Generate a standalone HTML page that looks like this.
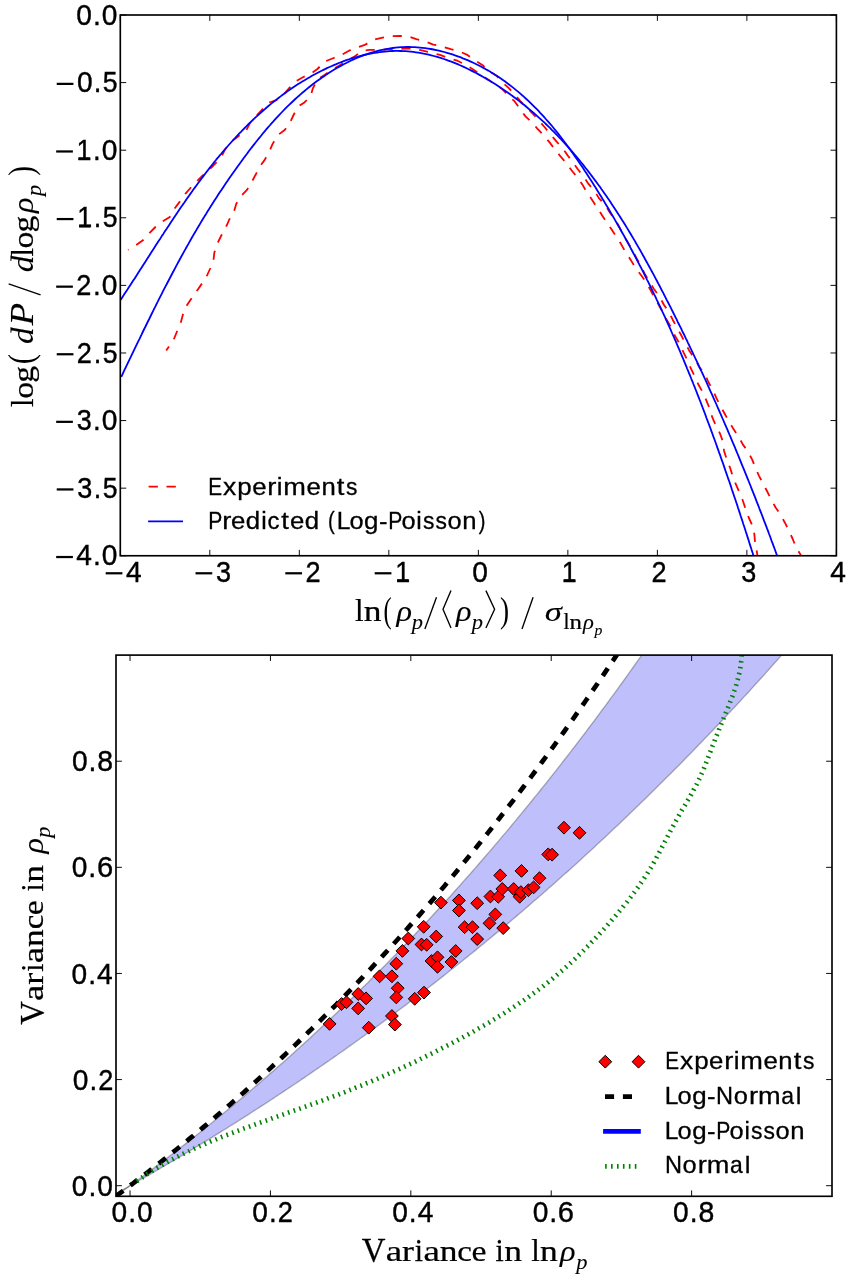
<!DOCTYPE html>
<html><head><meta charset="utf-8"><title>Log-Poisson density PDFs</title>
<style>html,body{margin:0;padding:0;background:#fff}svg{display:block;will-change:transform}text{font-family:"Liberation Sans",sans-serif;fill:#000}.m{font-family:"Liberation Serif",serif}.i{font-style:italic}</style></head><body>
<svg width="855" height="1283" viewBox="0 0 855 1283" role="img" aria-label="Log-Poisson density PDF and variance relation charts">
<rect width="855" height="1283" fill="#fff"/>
<defs>
<clipPath id="ct"><rect x="120.30" y="15.00" width="716.10" height="540.75"/></clipPath>
<clipPath id="cb"><rect x="116.00" y="655.10" width="716.00" height="541.20"/></clipPath>
</defs>
<g clip-path="url(#ct)" fill="none" stroke-linejoin="round">
<path d="M128.0 249.8 L135.9 245.3 L142.9 240.3 L149.6 232.8 L155.4 227.0 L162.5 221.5 L169.8 217.0 L174.5 208.7 L179.8 201.6 L185.3 193.8 L191.1 187.2 L197.5 180.6 L202.5 175.7 L212.4 166.5 L215.7 163.2 L222.4 154.9 L225.2 149.1 L232.4 140.8 L235.7 138.3 L246.5 130.0 L249.8 123.3 L256.4 115.9 L261.7 110.0 L268.9 102.6 L276.4 100.1 L283.8 94.3 L288.8 88.5 L296.3 81.0 L302.9 77.3 L311.6 73.1 L317.4 69.0 L324.9 61.5 L332.4 58.5 L341.5 54.9 L349.0 50.7 L357.3 47.4 L364.8 44.9 L373.1 39.9 L381.4 37.9 L391.0 36.3 L399.7 35.8 L408.8 36.6 L416.3 39.1 L425.4 41.6 L433.3 44.6 L442.5 46.6 L450.8 49.1 L459.9 51.6 L467.4 54.9 L475.7 60.7 L482.3 64.9 L489.8 71.5 L496.4 75.7 L503.1 83.1 L508.9 88.1 L516.4 96.4 L520.5 101.4 L528.0 108.9 L533.0 113.9 L539.6 121.3 L544.9 127.5 L551.6 135.8 L556.6 141.6 L563.2 149.1 L567.9 155.7 L573.5 163.2 L578.2 169.8 L584.0 177.3 L588.5 183.9 L594.8 191.4 L598.9 198.1 L605.6 205.5 L609.7 212.2 L615.5 220.5 L618.2 225.0 L625.7 239.1 L627.4 241.6 L634.0 253.2 L636.5 258.2 L641.5 267.3 L644.8 274.0 L649.8 282.3 L653.9 288.9 L659.8 297.2 L663.9 304.7 L669.4 313.0 L672.7 319.7 L677.4 328.3 L681.5 335.8 L685.7 344.1 L689.8 351.6 L695.6 359.9 L699.0 366.5 L705.6 375.6 L708.1 381.5 L713.1 390.6 L716.4 398.1 L720.6 406.4 L724.7 413.8 L729.0 421.7 L733.5 429.1 L738.5 436.6 L743.1 444.9 L748.1 451.6 L752.3 459.9 L755.6 468.2 L758.9 475.6 L763.1 483.9 L767.4 491.8 L771.5 499.9 L775.6 507.5 L780.8 515.1 L784.9 522.7 L789.0 530.9 L792.5 538.5 L796.0 547.3 L800.7 554.9 L806.0 566.0" stroke="#f00" stroke-width="1.80" stroke-dasharray="9.1 8.8" stroke-dashoffset="8.4"/>
<path d="M166.2 350.6 L173.6 339.8 L177.0 331.5 L180.8 322.4 L182.8 314.9 L186.1 306.6 L191.1 299.1 L197.7 289.7 L206.0 277.7 L210.2 268.5 L213.5 260.2 L214.3 252.8 L217.7 242.8 L221.8 234.5 L226.0 227.0 L229.3 219.5 L233.8 212.1 L236.3 203.8 L240.9 196.3 L247.2 189.6 L251.5 182.3 L255.6 174.8 L259.8 166.5 L264.7 159.9 L269.7 150.7 L272.5 144.1 L278.0 135.0 L284.7 130.0 L289.7 123.3 L293.3 115.5 L298.0 106.7 L304.4 102.4 L310.6 96.2 L312.7 88.7 L317.6 79.2 L324.9 74.8 L331.6 69.8 L339.0 65.7 L348.2 59.9 L354.0 56.9 L362.3 50.7 L369.8 49.9 L379.7 49.9 L386.4 49.4 L397.2 49.1 L405.5 48.6 L414.6 48.6 L422.9 50.7 L431.8 52.8 L440.0 54.9 L449.1 58.2 L457.4 60.7 L465.7 64.9 L472.4 69.0 L480.7 74.8 L487.3 79.0 L494.8 84.0 L502.2 89.0 L508.9 96.4 L514.7 101.4 L520.5 109.7 L525.5 116.4 L532.0 122.4 L537.3 128.6 L544.0 135.7 L549.6 142.4 L555.2 149.9 L560.4 156.2 L566.5 163.5 L571.5 170.2 L577.3 177.3 L582.3 184.4 L586.8 192.2 L591.8 199.4 L596.8 207.2 L601.7 214.7 L606.6 222.3 L611.3 229.1 L616.2 236.6 L621.1 244.1 L625.7 252.4 L630.7 259.9 L635.2 267.3 L640.2 274.0 L645.6 281.5 L649.8 288.9 L653.9 296.4 L658.1 303.9 L663.1 313.0 L666.7 319.7 L671.6 328.3 L674.9 335.8 L679.9 344.1 L683.5 352.4 L687.3 359.9 L690.7 368.2 L694.8 376.5 L698.5 384.8 L702.8 392.2 L706.4 400.6 L709.8 408.9 L712.2 417.2 L715.7 425.0 L719.9 433.3 L723.2 442.4 L724.0 450.7 L726.9 459.9 L729.9 467.3 L732.8 476.5 L735.7 483.9 L739.2 492.0 L742.8 500.5 L745.5 508.7 L748.7 517.5 L752.2 525.1 L754.3 533.9 L755.1 542.6 L756.8 551.4 L757.5 556.0" stroke="#f00" stroke-width="1.80" stroke-dasharray="9.1 8.8" stroke-dashoffset="4.2"/>
<path d="M120.5 300.1 L121.9 297.9 L123.3 295.8 L124.7 293.6 L126.1 291.5 L127.6 289.3 L129.0 287.1 L130.4 285.0 L131.8 282.8 L133.2 280.6 L134.7 278.4 L136.1 276.2 L137.5 274.0 L138.9 271.8 L140.3 269.6 L141.7 267.4 L143.2 265.1 L144.6 262.9 L146.0 260.7 L147.4 258.5 L148.9 256.2 L150.3 254.0 L151.7 251.8 L153.2 249.5 L154.6 247.3 L156.0 245.1 L157.5 242.8 L158.9 240.6 L160.4 238.4 L161.8 236.1 L163.3 233.9 L164.7 231.6 L166.2 229.4 L167.7 227.2 L169.2 224.9 L170.6 222.7 L172.1 220.5 L173.6 218.2 L175.1 216.0 L176.6 213.8 L178.1 211.6 L179.6 209.3 L181.1 207.1 L182.6 204.9 L184.2 202.7 L185.7 200.5 L187.2 198.3 L188.8 196.1 L190.3 193.9 L191.9 191.7 L193.4 189.6 L195.0 187.4 L196.6 185.2 L198.2 183.0 L199.8 180.9 L201.4 178.7 L203.0 176.6 L204.6 174.5 L206.3 172.3 L207.9 170.2 L209.5 168.1 L211.2 166.0 L212.9 163.9 L214.5 161.8 L216.2 159.7 L217.9 157.7 L219.6 155.6 L221.4 153.6 L223.1 151.5 L224.8 149.5 L226.6 147.5 L228.3 145.5 L230.1 143.5 L231.9 141.5 L233.7 139.5 L235.5 137.6 L237.3 135.6 L239.1 133.7 L241.0 131.8 L242.8 129.9 L244.7 128.0 L246.6 126.1 L248.4 124.2 L250.3 122.3 L252.3 120.5 L254.2 118.7 L256.1 116.9 L258.1 115.1 L260.1 113.3 L262.1 111.5 L264.1 109.8 L266.1 108.0 L268.1 106.3 L270.1 104.6 L272.2 102.9 L274.3 101.3 L276.4 99.6 L278.5 98.0 L280.6 96.4 L282.7 94.8 L284.9 93.2 L287.1 91.6 L289.3 90.1 L291.5 88.6 L293.7 87.1 L295.9 85.6 L298.2 84.1 L300.4 82.7 L302.7 81.3 L305.0 79.9 L307.4 78.5 L309.7 77.2 L312.0 75.8 L314.4 74.5 L316.8 73.2 L319.2 72.0 L321.6 70.8 L324.0 69.6 L326.5 68.4 L328.9 67.3 L331.4 66.2 L333.8 65.1 L336.3 64.1 L338.8 63.0 L341.3 62.1 L343.8 61.1 L346.3 60.2 L348.9 59.4 L351.4 58.5 L353.9 57.7 L356.5 57.0 L359.0 56.3 L361.6 55.6 L364.2 55.0 L366.7 54.4 L369.3 53.8 L371.9 53.3 L374.5 52.9 L377.1 52.5 L379.7 52.1 L382.2 51.8 L384.8 51.5 L387.4 51.3 L390.0 51.1 L392.6 51.0 L395.2 50.9 L397.8 50.9 L400.4 51.0 L403.0 51.1 L405.6 51.2 L408.1 51.4 L410.7 51.6 L413.3 51.9 L415.9 52.3 L418.5 52.7 L421.0 53.1 L423.6 53.6 L426.1 54.1 L428.7 54.7 L431.2 55.3 L433.8 56.0 L436.3 56.7 L438.8 57.4 L441.4 58.2 L443.9 59.0 L446.4 59.9 L448.9 60.8 L451.4 61.7 L453.8 62.7 L456.3 63.7 L458.8 64.7 L461.2 65.8 L463.7 66.9 L466.1 68.0 L468.5 69.2 L470.9 70.4 L473.3 71.6 L475.7 72.8 L478.1 74.1 L480.4 75.4 L482.8 76.7 L485.1 78.0 L487.4 79.4 L489.7 80.8 L492.0 82.2 L494.3 83.6 L496.6 85.0 L498.8 86.5 L501.0 88.0 L503.2 89.5 L505.4 91.0 L507.6 92.5 L509.8 94.0 L511.9 95.6 L514.1 97.2 L516.2 98.8 L518.3 100.4 L520.4 102.0 L522.5 103.7 L524.6 105.3 L526.6 107.0 L528.6 108.7 L530.7 110.4 L532.7 112.1 L534.7 113.8 L536.7 115.6 L538.6 117.3 L540.6 119.1 L542.5 120.9 L544.5 122.7 L546.4 124.5 L548.3 126.4 L550.2 128.2 L552.0 130.1 L553.9 131.9 L555.8 133.8 L557.6 135.7 L559.4 137.6 L561.2 139.5 L563.0 141.5 L564.8 143.4 L566.6 145.4 L568.4 147.4 L570.1 149.3 L571.9 151.3 L573.6 153.3 L575.3 155.3 L577.0 157.4 L578.7 159.4 L580.4 161.5 L582.1 163.5 L583.8 165.6 L585.4 167.7 L587.1 169.8 L588.7 171.9 L590.3 174.0 L591.9 176.1 L593.5 178.2 L595.1 180.4 L596.7 182.5 L598.3 184.7 L599.9 186.8 L601.4 189.0 L603.0 191.2 L604.5 193.4 L606.0 195.6 L607.5 197.8 L609.1 200.0 L610.6 202.2 L612.0 204.4 L613.5 206.7 L615.0 208.9 L616.5 211.2 L617.9 213.4 L619.4 215.7 L620.8 217.9 L622.2 220.2 L623.7 222.5 L625.1 224.8 L626.5 227.1 L627.9 229.4 L629.3 231.7 L630.7 234.0 L632.0 236.3 L633.4 238.6 L634.8 240.9 L636.1 243.3 L637.5 245.6 L638.8 247.9 L640.2 250.3 L641.5 252.6 L642.8 255.0 L644.1 257.3 L645.4 259.7 L646.7 262.0 L648.0 264.4 L649.3 266.8 L650.6 269.1 L651.9 271.5 L653.2 273.9 L654.4 276.2 L655.7 278.6 L657.0 281.0 L658.2 283.4 L659.5 285.8 L660.7 288.1 L661.9 290.5 L663.2 292.9 L664.4 295.3 L665.6 297.7 L666.8 300.1 L668.1 302.5 L669.3 304.9 L670.5 307.2 L671.7 309.6 L672.9 312.0 L674.1 314.4 L675.3 316.8 L676.5 319.2 L677.6 321.6 L678.8 324.0 L680.0 326.4 L681.2 328.7 L682.3 331.1 L683.5 333.5 L684.7 335.9 L685.8 338.3 L687.0 340.7 L688.1 343.1 L689.3 345.5 L690.4 347.9 L691.6 350.3 L692.7 352.6 L693.8 355.0 L694.9 357.4 L696.1 359.8 L697.2 362.2 L698.3 364.6 L699.4 367.0 L700.5 369.4 L701.7 371.8 L702.8 374.2 L703.9 376.6 L705.0 379.0 L706.1 381.4 L707.2 383.8 L708.2 386.2 L709.3 388.6 L710.4 391.0 L711.5 393.4 L712.6 395.8 L713.6 398.2 L714.7 400.6 L715.8 403.0 L716.9 405.5 L717.9 407.9 L719.0 410.3 L720.0 412.7 L721.1 415.1 L722.1 417.5 L723.2 420.0 L724.2 422.4 L725.3 424.8 L726.3 427.2 L727.4 429.6 L728.4 432.1 L729.4 434.5 L730.5 436.9 L731.5 439.4 L732.5 441.8 L733.5 444.2 L734.6 446.7 L735.6 449.1 L736.6 451.6 L737.6 454.0 L738.6 456.4 L739.6 458.9 L740.6 461.3 L741.6 463.8 L742.6 466.3 L743.6 468.7 L744.6 471.2 L745.6 473.6 L746.6 476.1 L747.6 478.6 L748.6 481.0 L749.6 483.5 L750.6 486.0 L751.5 488.4 L752.5 490.9 L753.5 493.4 L754.5 495.9 L755.5 498.4 L756.4 500.9 L757.4 503.4 L758.4 505.8 L759.3 508.3 L760.3 510.8 L761.3 513.3 L762.2 515.8 L763.2 518.4 L764.1 520.9 L765.1 523.4 L766.1 525.9 L767.0 528.4 L768.0 530.9 L768.9 533.5 L769.9 536.0 L770.8 538.5 L771.7 541.1 L772.7 543.6 L773.6 546.1 L774.6 548.7 L775.5 551.2 L776.4 553.8 L777.4 556.3 L778.3 558.9 L779.3 561.5 L780.2 564.0 L781.1 566.6" stroke="#00f" stroke-width="1.80"/>
<path d="M121.3 376.8 L122.5 374.3 L123.7 371.7 L124.9 369.2 L126.1 366.7 L127.3 364.2 L128.5 361.7 L129.7 359.2 L130.9 356.7 L132.1 354.2 L133.3 351.7 L134.5 349.2 L135.7 346.6 L136.9 344.1 L138.1 341.6 L139.4 339.1 L140.6 336.6 L141.8 334.1 L143.0 331.5 L144.2 329.0 L145.5 326.5 L146.7 324.0 L147.9 321.5 L149.2 319.0 L150.4 316.5 L151.6 314.0 L152.9 311.4 L154.1 308.9 L155.4 306.4 L156.6 303.9 L157.9 301.4 L159.1 298.9 L160.4 296.4 L161.7 293.9 L162.9 291.4 L164.2 288.9 L165.5 286.4 L166.8 284.0 L168.1 281.5 L169.4 279.0 L170.7 276.5 L172.0 274.0 L173.3 271.5 L174.6 269.1 L175.9 266.6 L177.2 264.1 L178.5 261.7 L179.9 259.2 L181.2 256.8 L182.6 254.3 L183.9 251.9 L185.3 249.4 L186.6 247.0 L188.0 244.6 L189.4 242.1 L190.7 239.7 L192.1 237.3 L193.5 234.9 L194.9 232.5 L196.3 230.1 L197.7 227.7 L199.2 225.3 L200.6 222.9 L202.0 220.5 L203.5 218.1 L204.9 215.7 L206.4 213.4 L207.8 211.0 L209.3 208.7 L210.8 206.3 L212.3 204.0 L213.8 201.6 L215.3 199.3 L216.8 197.0 L218.3 194.6 L219.8 192.3 L221.4 190.0 L222.9 187.7 L224.4 185.4 L226.0 183.1 L227.6 180.8 L229.1 178.5 L230.7 176.3 L232.3 174.0 L233.9 171.7 L235.5 169.5 L237.1 167.2 L238.7 165.0 L240.4 162.7 L242.0 160.5 L243.6 158.2 L245.3 156.0 L247.0 153.8 L248.6 151.5 L250.3 149.3 L252.0 147.1 L253.7 144.9 L255.4 142.7 L257.2 140.5 L258.9 138.4 L260.7 136.2 L262.4 134.0 L264.2 131.9 L266.0 129.7 L267.8 127.6 L269.7 125.5 L271.5 123.4 L273.4 121.3 L275.3 119.2 L277.2 117.1 L279.1 115.1 L281.1 113.0 L283.0 111.0 L285.0 108.9 L287.0 106.9 L289.1 104.9 L291.1 103.0 L293.2 101.0 L295.3 99.0 L297.4 97.1 L299.6 95.2 L301.7 93.3 L303.9 91.5 L306.1 89.6 L308.4 87.8 L310.6 86.0 L312.8 84.3 L315.1 82.5 L317.4 80.8 L319.7 79.2 L322.1 77.5 L324.4 75.9 L326.8 74.3 L329.1 72.8 L331.5 71.3 L333.9 69.8 L336.4 68.3 L338.8 66.9 L341.2 65.6 L343.7 64.2 L346.2 63.0 L348.7 61.7 L351.2 60.5 L353.7 59.4 L356.2 58.3 L358.8 57.2 L361.3 56.2 L363.9 55.2 L366.5 54.3 L369.1 53.4 L371.7 52.6 L374.3 51.8 L376.9 51.1 L379.5 50.4 L382.2 49.8 L384.8 49.3 L387.5 48.8 L390.2 48.4 L392.8 48.0 L395.5 47.7 L398.2 47.4 L400.9 47.2 L403.6 47.1 L406.3 47.0 L409.0 47.0 L411.7 47.1 L414.5 47.2 L417.2 47.4 L419.9 47.6 L422.6 47.9 L425.3 48.2 L428.1 48.6 L430.8 49.0 L433.5 49.5 L436.2 50.1 L438.9 50.7 L441.6 51.3 L444.3 52.0 L447.0 52.8 L449.7 53.6 L452.4 54.4 L455.0 55.3 L457.7 56.3 L460.3 57.2 L462.9 58.3 L465.5 59.3 L468.1 60.4 L470.7 61.6 L473.3 62.8 L475.8 64.0 L478.4 65.2 L480.9 66.5 L483.4 67.9 L485.8 69.2 L488.3 70.6 L490.7 72.1 L493.1 73.5 L495.5 75.0 L497.9 76.6 L500.2 78.1 L502.5 79.7 L504.8 81.3 L507.0 83.0 L509.3 84.7 L511.5 86.4 L513.7 88.1 L515.8 89.9 L518.0 91.6 L520.1 93.4 L522.2 95.3 L524.3 97.1 L526.3 99.0 L528.4 100.9 L530.4 102.8 L532.4 104.8 L534.4 106.8 L536.3 108.7 L538.3 110.7 L540.2 112.8 L542.1 114.8 L544.0 116.9 L545.8 119.0 L547.7 121.1 L549.5 123.2 L551.4 125.3 L553.2 127.5 L554.9 129.7 L556.7 131.8 L558.5 134.0 L560.2 136.2 L561.9 138.5 L563.6 140.7 L565.3 143.0 L567.0 145.2 L568.7 147.5 L570.3 149.8 L572.0 152.1 L573.6 154.4 L575.2 156.7 L576.8 159.0 L578.4 161.3 L580.0 163.7 L581.6 166.0 L583.2 168.3 L584.7 170.7 L586.3 173.1 L587.8 175.4 L589.3 177.8 L590.9 180.2 L592.4 182.5 L593.9 184.9 L595.4 187.3 L596.9 189.7 L598.3 192.1 L599.8 194.4 L601.3 196.8 L602.7 199.2 L604.2 201.6 L605.6 204.0 L607.1 206.4 L608.5 208.8 L609.9 211.2 L611.3 213.6 L612.7 216.0 L614.1 218.4 L615.5 220.9 L616.9 223.3 L618.3 225.7 L619.7 228.1 L621.0 230.5 L622.4 233.0 L623.8 235.4 L625.1 237.8 L626.4 240.3 L627.8 242.7 L629.1 245.1 L630.4 247.6 L631.7 250.0 L633.0 252.5 L634.3 254.9 L635.6 257.4 L636.9 259.8 L638.2 262.3 L639.5 264.8 L640.8 267.2 L642.0 269.7 L643.3 272.2 L644.5 274.7 L645.8 277.1 L647.0 279.6 L648.3 282.1 L649.5 284.6 L650.7 287.1 L651.9 289.6 L653.1 292.1 L654.3 294.6 L655.6 297.1 L656.7 299.6 L657.9 302.1 L659.1 304.6 L660.3 307.1 L661.5 309.7 L662.6 312.2 L663.8 314.7 L665.0 317.2 L666.1 319.8 L667.3 322.3 L668.4 324.8 L669.6 327.4 L670.7 329.9 L671.8 332.5 L672.9 335.0 L674.1 337.6 L675.2 340.2 L676.3 342.7 L677.4 345.3 L678.5 347.8 L679.6 350.4 L680.7 353.0 L681.8 355.6 L682.9 358.1 L683.9 360.7 L685.0 363.3 L686.1 365.9 L687.1 368.5 L688.2 371.1 L689.2 373.6 L690.3 376.2 L691.3 378.8 L692.4 381.4 L693.4 384.0 L694.5 386.6 L695.5 389.2 L696.5 391.8 L697.5 394.4 L698.6 397.1 L699.6 399.7 L700.6 402.3 L701.6 404.9 L702.6 407.5 L703.6 410.1 L704.6 412.8 L705.6 415.4 L706.5 418.0 L707.5 420.6 L708.5 423.2 L709.5 425.9 L710.5 428.5 L711.4 431.1 L712.4 433.8 L713.3 436.4 L714.3 439.0 L715.3 441.7 L716.2 444.3 L717.1 446.9 L718.1 449.6 L719.0 452.2 L720.0 454.9 L720.9 457.5 L721.8 460.1 L722.8 462.8 L723.7 465.4 L724.6 468.1 L725.5 470.7 L726.4 473.4 L727.3 476.0 L728.2 478.6 L729.2 481.3 L730.1 483.9 L731.0 486.6 L731.8 489.2 L732.7 491.9 L733.6 494.5 L734.5 497.2 L735.4 499.8 L736.3 502.5 L737.2 505.1 L738.0 507.8 L738.9 510.4 L739.8 513.1 L740.6 515.7 L741.5 518.4 L742.4 521.0 L743.2 523.7 L744.1 526.3 L745.0 529.0 L745.8 531.6 L746.7 534.3 L747.5 536.9 L748.4 539.6 L749.2 542.2 L750.0 544.9 L750.9 547.5 L751.7 550.1 L752.6 552.8 L753.4 555.4 L754.2 558.1 L755.1 560.7 L755.9 563.3 L756.7 566.0" stroke="#00f" stroke-width="1.80"/>
</g>
<path d="M120.30 555.75 v-5.90 M120.30 15.00 v5.90 M209.81 555.75 v-5.90 M209.81 15.00 v5.90 M299.32 555.75 v-5.90 M299.32 15.00 v5.90 M388.84 555.75 v-5.90 M388.84 15.00 v5.90 M478.35 555.75 v-5.90 M478.35 15.00 v5.90 M567.86 555.75 v-5.90 M567.86 15.00 v5.90 M657.38 555.75 v-5.90 M657.38 15.00 v5.90 M746.89 555.75 v-5.90 M746.89 15.00 v5.90 M836.40 555.75 v-5.90 M836.40 15.00 v5.90 M120.30 15.00 h5.90 M836.40 15.00 h-5.90 M120.30 82.59 h5.90 M836.40 82.59 h-5.90 M120.30 150.19 h5.90 M836.40 150.19 h-5.90 M120.30 217.78 h5.90 M836.40 217.78 h-5.90 M120.30 285.38 h5.90 M836.40 285.38 h-5.90 M120.30 352.97 h5.90 M836.40 352.97 h-5.90 M120.30 420.56 h5.90 M836.40 420.56 h-5.90 M120.30 488.16 h5.90 M836.40 488.16 h-5.90 M120.30 555.75 h5.90 M836.40 555.75 h-5.90" stroke="#000" stroke-width="0.95" fill="none"/>
<rect x="120.30" y="15.00" width="716.10" height="540.75" fill="none" stroke="#000" stroke-width="1.65"/>
<text stroke="#000" stroke-width="0.40" transform="translate(0 24.65) scale(0.9640 1.000)" x="79.22" y="0" font-size="29.20">0</text><text stroke="#000" stroke-width="0.40" transform="translate(0 24.65) scale(0.9660 1.000)" x="96.28" y="0" font-size="29.20">.</text><text stroke="#000" stroke-width="0.40" transform="translate(0 24.65) scale(0.9640 1.000)" x="105.65" y="0" font-size="29.20">0</text>
<rect x="56.73" y="82.77" width="16.71" height="2.22"/><text stroke="#000" stroke-width="0.40" transform="translate(0 92.24) scale(0.9640 1.000)" x="79.81" y="0" font-size="29.20">0</text><text stroke="#000" stroke-width="0.40" transform="translate(0 92.24) scale(0.9420 1.000)" x="99.44" y="0" font-size="29.20">.</text><text stroke="#000" stroke-width="0.40" transform="translate(0 92.24) scale(0.9100 1.000)" x="112.90" y="0" font-size="29.20">5</text>
<rect x="56.17" y="150.36" width="16.71" height="2.22"/><text stroke="#000" stroke-width="0.40" transform="translate(0 159.84) scale(0.9210 1.000)" x="83.17" y="0" font-size="29.20">1</text><text stroke="#000" stroke-width="0.40" transform="translate(0 159.84) scale(0.9480 1.000)" x="98.19" y="0" font-size="29.20">.</text><text stroke="#000" stroke-width="0.40" transform="translate(0 159.84) scale(0.9640 1.000)" x="105.65" y="0" font-size="29.20">0</text><rect x="78.65" y="157.54" width="11.13" height="2.3"/>
<rect x="56.73" y="217.95" width="16.71" height="2.22"/><text stroke="#000" stroke-width="0.40" transform="translate(0 227.43) scale(0.9210 1.000)" x="83.78" y="0" font-size="29.20">1</text><text stroke="#000" stroke-width="0.40" transform="translate(0 227.43) scale(0.9220 1.000)" x="101.68" y="0" font-size="29.20">.</text><text stroke="#000" stroke-width="0.40" transform="translate(0 227.43) scale(0.9100 1.000)" x="112.90" y="0" font-size="29.20">5</text><rect x="79.21" y="225.13" width="11.13" height="2.3"/>
<rect x="56.17" y="285.55" width="16.71" height="2.22"/><text stroke="#000" stroke-width="0.40" transform="translate(0 295.02) scale(0.9290 1.000)" x="82.13" y="0" font-size="29.20">2</text><text stroke="#000" stroke-width="0.40" transform="translate(0 295.02) scale(0.9510 1.000)" x="97.87" y="0" font-size="29.20">.</text><text stroke="#000" stroke-width="0.40" transform="translate(0 295.02) scale(0.9640 1.000)" x="105.65" y="0" font-size="29.20">0</text>
<rect x="56.73" y="353.14" width="16.71" height="2.22"/><text stroke="#000" stroke-width="0.40" transform="translate(0 362.62) scale(0.9290 1.000)" x="82.74" y="0" font-size="29.20">2</text><text stroke="#000" stroke-width="0.40" transform="translate(0 362.62) scale(0.9260 1.000)" x="101.23" y="0" font-size="29.20">.</text><text stroke="#000" stroke-width="0.40" transform="translate(0 362.62) scale(0.9100 1.000)" x="112.90" y="0" font-size="29.20">5</text>
<rect x="56.17" y="420.73" width="16.71" height="2.22"/><text stroke="#000" stroke-width="0.40" transform="translate(0 430.21) scale(0.9260 1.000)" x="82.85" y="0" font-size="29.20">3</text><text stroke="#000" stroke-width="0.40" transform="translate(0 430.21) scale(0.9490 1.000)" x="98.08" y="0" font-size="29.20">.</text><text stroke="#000" stroke-width="0.40" transform="translate(0 430.21) scale(0.9640 1.000)" x="105.65" y="0" font-size="29.20">0</text>
<rect x="56.73" y="488.33" width="16.71" height="2.22"/><text stroke="#000" stroke-width="0.40" transform="translate(0 497.81) scale(0.9260 1.000)" x="83.45" y="0" font-size="29.20">3</text><text stroke="#000" stroke-width="0.40" transform="translate(0 497.81) scale(0.9240 1.000)" x="101.45" y="0" font-size="29.20">.</text><text stroke="#000" stroke-width="0.40" transform="translate(0 497.81) scale(0.9100 1.000)" x="112.90" y="0" font-size="29.20">5</text>
<rect x="56.17" y="555.92" width="16.71" height="2.22"/><text stroke="#000" stroke-width="0.40" transform="translate(0 565.40) scale(0.9640 1.000)" x="79.22" y="0" font-size="29.20">4</text><text stroke="#000" stroke-width="0.40" transform="translate(0 565.40) scale(0.9660 1.000)" x="96.28" y="0" font-size="29.20">.</text><text stroke="#000" stroke-width="0.40" transform="translate(0 565.40) scale(0.9640 1.000)" x="105.65" y="0" font-size="29.20">0</text>
<rect x="105.68" y="572.17" width="16.71" height="2.22"/><text stroke="#000" stroke-width="0.40" transform="translate(0 581.65) scale(0.9640 1.000)" x="130.59" y="0" font-size="29.20">4</text>
<rect x="195.52" y="572.17" width="16.71" height="2.22"/><text stroke="#000" stroke-width="0.40" transform="translate(0 581.65) scale(0.9260 1.000)" x="233.33" y="0" font-size="29.20">3</text>
<rect x="285.30" y="572.17" width="16.71" height="2.22"/><text stroke="#000" stroke-width="0.40" transform="translate(0 581.65) scale(0.9290 1.000)" x="328.77" y="0" font-size="29.20">2</text>
<rect x="374.70" y="572.17" width="16.71" height="2.22"/><text stroke="#000" stroke-width="0.40" transform="translate(0 581.65) scale(0.9210 1.000)" x="429.03" y="0" font-size="29.20">1</text><rect x="397.18" y="579.35" width="11.13" height="2.3"/>
<text stroke="#000" stroke-width="0.40" transform="translate(0 581.65) scale(0.9640 1.000)" x="489.86" y="0" font-size="29.20">0</text>
<text stroke="#000" stroke-width="0.40" transform="translate(0 581.65) scale(0.9210 1.000)" x="609.90" y="0" font-size="29.20">1</text><rect x="563.77" y="579.35" width="11.13" height="2.3"/>
<text stroke="#000" stroke-width="0.40" transform="translate(0 581.65) scale(0.9290 1.000)" x="701.33" y="0" font-size="29.20">2</text>
<text stroke="#000" stroke-width="0.40" transform="translate(0 581.65) scale(0.9260 1.000)" x="800.38" y="0" font-size="29.20">3</text>
<text stroke="#000" stroke-width="0.40" transform="translate(0 581.65) scale(0.9640 1.000)" x="861.37" y="0" font-size="29.20">4</text>
<path d="M148.6 486.65 H183" stroke="#f00" stroke-width="1.80" stroke-dasharray="9.3 8.6" fill="none"/>
<path d="M148.1 521.3 H183" stroke="#00f" stroke-width="1.80" fill="none"/>
<text stroke="#000" stroke-width="0.30" transform="translate(0 494.50) scale(0.8610 1.000)" x="241.86" y="0" font-size="24.00">E</text><text stroke="#000" stroke-width="0.30" transform="translate(0 494.50) scale(1.1020 1.000)" x="202.41" y="0" font-size="24.00">x</text><text stroke="#000" stroke-width="0.30" transform="translate(0 494.50) scale(1.0810 1.000)" x="219.50" y="0" font-size="24.00">p</text><text stroke="#000" stroke-width="0.30" transform="translate(0 494.50) scale(1.0730 1.000)" x="234.99" y="0" font-size="24.00">e</text><text stroke="#000" stroke-width="0.30" transform="translate(0 494.50) scale(1.1400 1.000)" x="234.51" y="0" font-size="24.00">r</text><text stroke="#000" stroke-width="0.30" transform="translate(0 494.50) scale(1.0730 1.000)" x="258.03" y="0" font-size="24.00">i</text><text stroke="#000" stroke-width="0.30" transform="translate(0 494.50) scale(1.1320 1.000)" x="250.34" y="0" font-size="24.00">m</text><text stroke="#000" stroke-width="0.30" transform="translate(0 494.50) scale(1.0730 1.000)" x="285.63" y="0" font-size="24.00">e</text><text stroke="#000" stroke-width="0.30" transform="translate(0 494.50) scale(1.0710 1.000)" x="300.09" y="0" font-size="24.00">n</text><text stroke="#000" stroke-width="0.30" transform="translate(0 494.50) scale(1.1400 1.000)" x="295.49" y="0" font-size="24.00">t</text><text stroke="#000" stroke-width="0.30" transform="translate(0 494.50) scale(0.9530 1.000)" x="363.12" y="0" font-size="24.00">s</text>
<text stroke="#000" stroke-width="0.30" transform="translate(0 529.10) scale(0.8790 1.000)" x="236.87" y="0" font-size="24.00">P</text><text stroke="#000" stroke-width="0.30" transform="translate(0 529.10) scale(1.1400 1.000)" x="195.01" y="0" font-size="24.00">r</text><text stroke="#000" stroke-width="0.30" transform="translate(0 529.10) scale(1.0730 1.000)" x="215.35" y="0" font-size="24.00">e</text><text stroke="#000" stroke-width="0.30" transform="translate(0 529.10) scale(1.0800 1.000)" x="227.54" y="0" font-size="24.00">d</text><text stroke="#000" stroke-width="0.30" transform="translate(0 529.10) scale(1.0250 1.000)" x="254.88" y="0" font-size="24.00">i</text><text stroke="#000" stroke-width="0.30" transform="translate(0 529.10) scale(0.9970 1.000)" x="268.39" y="0" font-size="24.00">c</text><text stroke="#000" stroke-width="0.30" transform="translate(0 529.10) scale(1.1400 1.000)" x="246.67" y="0" font-size="24.00">t</text><text stroke="#000" stroke-width="0.30" transform="translate(0 529.10) scale(1.0730 1.000)" x="270.24" y="0" font-size="24.00">e</text><text stroke="#000" stroke-width="0.30" transform="translate(0 529.10) scale(1.0800 1.000)" x="282.08" y="0" font-size="24.00">d</text><text stroke="#000" stroke-width="0.30" transform="translate(0 529.10) scale(0.8400 1.000)" x="390.41" y="0" font-size="24.00">(</text><text stroke="#000" stroke-width="0.30" transform="translate(0 529.10) scale(1.0220 1.000)" x="329.52" y="0" font-size="24.00">L</text><text stroke="#000" stroke-width="0.30" transform="translate(0 529.10) scale(1.0560 1.000)" x="331.03" y="0" font-size="24.00">o</text><text stroke="#000" stroke-width="0.30" transform="translate(0 529.10) scale(1.0800 1.000)" x="337.16" y="0" font-size="24.00">g</text><text stroke="#000" stroke-width="0.30" transform="translate(0 529.10) scale(1.0710 1.000)" x="353.94" y="0" font-size="24.00">-</text><text stroke="#000" stroke-width="0.30" transform="translate(0 529.10) scale(0.8790 1.000)" x="441.71" y="0" font-size="24.00">P</text><text stroke="#000" stroke-width="0.30" transform="translate(0 529.10) scale(1.0560 1.000)" x="380.15" y="0" font-size="24.00">o</text><text stroke="#000" stroke-width="0.30" transform="translate(0 529.10) scale(1.0250 1.000)" x="406.21" y="0" font-size="24.00">i</text><text stroke="#000" stroke-width="0.30" transform="translate(0 529.10) scale(0.9530 1.000)" x="443.92 456.96" y="0" font-size="24.00">ss</text><text stroke="#000" stroke-width="0.30" transform="translate(0 529.10) scale(1.0560 1.000)" x="423.77" y="0" font-size="24.00">o</text><text stroke="#000" stroke-width="0.30" transform="translate(0 529.10) scale(1.0710 1.000)" x="431.66" y="0" font-size="24.00">n</text><text stroke="#000" stroke-width="0.30" transform="translate(0 529.10) scale(0.8400 1.000)" x="569.94" y="0" font-size="24.00">)</text>
<text class="m" stroke="#000" stroke-width="0.25" transform="translate(0 621.20) scale(0.9420 1.000)" x="376.84" y="0" font-size="32.60">l</text><text class="m" stroke="#000" stroke-width="0.25" transform="translate(0 621.20) scale(1.0880 0.930)" x="334.28" y="0" font-size="32.60">n</text>
<text class="m" transform="translate(383.42 621.69) scale(0.6886 1)" font-size="35.62">(</text>
<text class="m i" stroke="#000" stroke-width="0.10" transform="translate(0 621.20) scale(0.9930 0.935)" x="399.22" y="0" font-size="32.60">ρ</text>
<text class="m i" stroke="#000" stroke-width="0.10" transform="translate(0 629.20) scale(0.9850 0.935)" x="417.99" y="0" font-size="22.82">p</text>
<path d="M424.90 629.08 L436.50 597.18" stroke="#000" stroke-width="1.35" fill="none"/>
<path d="M451.0 590.6 L443.0 609.3 L451.0 628.0" fill="none" stroke="#000" stroke-width="1.35"/>
<text class="m i" stroke="#000" stroke-width="0.10" transform="translate(0 621.20) scale(0.9930 0.935)" x="459.24" y="0" font-size="32.60">ρ</text>
<text class="m i" stroke="#000" stroke-width="0.10" transform="translate(0 629.20) scale(0.9850 0.935)" x="478.90" y="0" font-size="22.82">p</text>
<path d="M485.9 590.6 L494.6 609.3 L485.9 628.0" fill="none" stroke="#000" stroke-width="1.35"/>
<text class="m" transform="translate(499.92 621.69) scale(0.7651 1)" font-size="35.62">)</text>
<path d="M522.00 629.08 L533.10 597.18" stroke="#000" stroke-width="1.35" fill="none"/>
<text class="m i" stroke="#000" stroke-width="0.10" transform="translate(0 621.20) scale(1.0640 0.840)" x="511.90" y="0" font-size="32.60">σ</text>
<text class="m" stroke="#000" stroke-width="0.25" transform="translate(0 629.10) scale(0.9420 1.000)" x="598.16" y="0" font-size="22.82">l</text><text class="m" stroke="#000" stroke-width="0.25" transform="translate(0 629.10) scale(1.0880 0.930)" x="523.50" y="0" font-size="22.82">n</text>
<text class="m i" stroke="#000" stroke-width="0.10" transform="translate(0 629.10) scale(0.9930 0.935)" x="587.19" y="0" font-size="22.82">ρ</text>
<text class="m i" stroke="#000" stroke-width="0.10" transform="translate(0 635.20) scale(0.9850 0.935)" x="603.58" y="0" font-size="15.97">p</text>
<g transform="translate(32.70 1000) rotate(-90)">
<text class="m" stroke="#000" stroke-width="0.25" transform="translate(0 0.00) scale(0.9420 1.000)" x="629.50" y="0" font-size="32.60">l</text><text class="m" stroke="#000" stroke-width="0.25" transform="translate(0 0.00) scale(1.0360 0.930)" x="580.27" y="0" font-size="32.60">o</text><text class="m" stroke="#000" stroke-width="0.25" transform="translate(0 0.00) scale(1.0340 0.930)" x="596.86" y="0" font-size="32.60">g</text>
<text class="m" transform="translate(635.83 0.49) scale(0.8744 1)" font-size="35.62">(</text>
<text class="m i" stroke="#000" stroke-width="0.10" transform="translate(0 0.00) scale(1.0090 1.000)" x="650.15" y="0" font-size="32.60">d</text>
<text class="m i" stroke="#000" stroke-width="0.10" transform="translate(0 0.00) scale(1.1400 1.033)" x="591.61" y="0" font-size="32.60">P</text>
<path d="M705.20 7.87 L716.10 -24.02" stroke="#000" stroke-width="1.35" fill="none"/>
<text class="m i" stroke="#000" stroke-width="0.10" transform="translate(0 0.00) scale(1.0090 1.000)" x="721.31" y="0" font-size="32.60">d</text>
<text class="m" stroke="#000" stroke-width="0.25" transform="translate(0 0.00) scale(0.9420 1.000)" x="789.16" y="0" font-size="32.60">l</text><text class="m" stroke="#000" stroke-width="0.25" transform="translate(0 0.00) scale(1.0360 0.930)" x="725.44" y="0" font-size="32.60">o</text><text class="m" stroke="#000" stroke-width="0.25" transform="translate(0 0.00) scale(1.0340 0.930)" x="742.31" y="0" font-size="32.60">g</text>
<text class="m i" stroke="#000" stroke-width="0.10" transform="translate(0 0.00) scale(0.9930 0.935)" x="792.47" y="0" font-size="32.60">ρ</text>
<text class="m i" stroke="#000" stroke-width="0.10" transform="translate(0 7.80) scale(0.9850 0.935)" x="816.36" y="0" font-size="22.82">p</text>
<text class="m" transform="translate(824.16 0.49) scale(0.8198 1)" font-size="35.62">)</text>
</g>
<g clip-path="url(#cb)" stroke-linejoin="round">
<path d="M116.0 1195.8 L118.8 1193.8 L121.5 1191.9 L124.3 1189.9 L127.1 1187.9 L129.8 1185.8 L132.6 1183.8 L135.4 1181.8 L138.1 1179.8 L140.9 1177.7 L143.6 1175.7 L146.4 1173.6 L149.2 1171.6 L151.9 1169.5 L154.7 1167.4 L157.5 1165.3 L160.2 1163.2 L163.0 1161.1 L165.8 1159.0 L168.5 1156.9 L171.3 1154.8 L174.1 1152.7 L176.8 1150.5 L179.6 1148.4 L182.3 1146.2 L185.1 1144.1 L187.9 1141.9 L190.6 1139.7 L193.4 1137.5 L196.2 1135.4 L198.9 1133.2 L201.7 1131.0 L204.5 1128.7 L207.2 1126.5 L210.0 1124.3 L212.8 1122.0 L215.5 1119.8 L218.3 1117.5 L221.1 1115.3 L223.8 1113.0 L226.6 1110.7 L229.3 1108.4 L232.1 1106.1 L234.9 1103.8 L237.6 1101.5 L240.4 1099.2 L243.2 1096.9 L245.9 1094.5 L248.7 1092.2 L251.5 1089.8 L254.2 1087.5 L257.0 1085.1 L259.8 1082.7 L262.5 1080.3 L265.3 1077.9 L268.0 1075.5 L270.8 1073.1 L273.6 1070.7 L276.3 1068.3 L279.1 1065.8 L281.9 1063.4 L284.6 1060.9 L287.4 1058.4 L290.2 1056.0 L292.9 1053.5 L295.7 1051.0 L298.5 1048.5 L301.2 1046.0 L304.0 1043.4 L306.7 1040.9 L309.5 1038.4 L312.3 1035.8 L315.0 1033.3 L317.8 1030.7 L320.6 1028.1 L323.3 1025.5 L326.1 1022.9 L328.9 1020.3 L331.6 1017.7 L334.4 1015.1 L337.2 1012.5 L339.9 1009.8 L342.7 1007.2 L345.5 1004.5 L348.2 1001.8 L351.0 999.1 L353.7 996.5 L356.5 993.8 L359.3 991.0 L362.0 988.3 L364.8 985.6 L367.6 982.9 L370.3 980.1 L373.1 977.3 L375.9 974.6 L378.6 971.8 L381.4 969.0 L384.2 966.2 L386.9 963.4 L389.7 960.6 L392.4 957.7 L395.2 954.9 L398.0 952.0 L400.7 949.2 L403.5 946.3 L406.3 943.4 L409.0 940.5 L411.8 937.6 L414.6 934.7 L417.3 931.8 L420.1 928.9 L422.9 925.9 L425.6 923.0 L428.4 920.0 L431.2 917.0 L433.9 914.0 L436.7 911.0 L439.4 908.0 L442.2 905.0 L445.0 902.0 L447.7 898.9 L450.5 895.9 L453.3 892.8 L456.0 889.7 L458.8 886.6 L461.6 883.5 L464.3 880.4 L467.1 877.3 L469.9 874.2 L472.6 871.0 L475.4 867.9 L478.1 864.7 L480.9 861.5 L483.7 858.3 L486.4 855.1 L489.2 851.9 L492.0 848.7 L494.7 845.4 L497.5 842.2 L500.3 838.9 L503.0 835.6 L505.8 832.4 L508.6 829.1 L511.3 825.8 L514.1 822.4 L516.8 819.1 L519.6 815.8 L522.4 812.4 L525.1 809.0 L527.9 805.6 L530.7 802.2 L533.4 798.8 L536.2 795.4 L539.0 792.0 L541.7 788.5 L544.5 785.1 L547.3 781.6 L550.0 778.1 L552.8 774.6 L555.6 771.1 L558.3 767.6 L561.1 764.1 L563.8 760.5 L566.6 757.0 L569.4 753.4 L572.1 749.8 L574.9 746.2 L577.7 742.6 L580.4 739.0 L583.2 735.3 L586.0 731.7 L588.7 728.0 L591.5 724.3 L594.3 720.7 L597.0 717.0 L599.8 713.2 L602.5 709.5 L605.3 705.8 L608.1 702.0 L610.8 698.2 L613.6 694.4 L616.4 690.6 L619.1 686.8 L621.9 683.0 L624.7 679.1 L627.4 675.3 L630.2 671.4 L633.0 667.5 L635.7 663.6 L638.5 659.7 L641.3 655.8 L644.0 651.9 L646.8 647.9 L649.5 643.9 L652.3 639.9 L793.3 641.9 L790.5 645.0 L787.8 648.2 L785.0 651.3 L782.2 654.5 L779.5 657.6 L776.7 660.7 L773.9 663.8 L771.2 666.9 L768.4 670.0 L765.7 673.1 L762.9 676.2 L760.1 679.2 L757.4 682.3 L754.6 685.3 L751.8 688.4 L749.1 691.4 L746.3 694.4 L743.5 697.4 L740.8 700.4 L738.0 703.4 L735.2 706.4 L732.5 709.3 L729.7 712.3 L726.9 715.3 L724.2 718.2 L721.4 721.1 L718.7 724.1 L715.9 727.0 L713.1 729.9 L710.4 732.8 L707.6 735.7 L704.8 738.6 L702.1 741.5 L699.3 744.3 L696.5 747.2 L693.8 750.0 L691.0 752.9 L688.2 755.7 L685.5 758.5 L682.7 761.4 L680.0 764.2 L677.2 767.0 L674.4 769.8 L671.7 772.5 L668.9 775.3 L666.1 778.1 L663.4 780.8 L660.6 783.6 L657.8 786.3 L655.1 789.1 L652.3 791.8 L649.5 794.5 L646.8 797.2 L644.0 799.9 L641.3 802.6 L638.5 805.3 L635.7 808.0 L633.0 810.6 L630.2 813.3 L627.4 815.9 L624.7 818.6 L621.9 821.2 L619.1 823.9 L616.4 826.5 L613.6 829.1 L610.8 831.7 L608.1 834.3 L605.3 836.9 L602.5 839.5 L599.8 842.0 L597.0 844.6 L594.3 847.2 L591.5 849.7 L588.7 852.3 L586.0 854.8 L583.2 857.3 L580.4 859.9 L577.7 862.4 L574.9 864.9 L572.1 867.4 L569.4 869.9 L566.6 872.4 L563.8 874.8 L561.1 877.3 L558.3 879.8 L555.6 882.2 L552.8 884.7 L550.0 887.1 L547.3 889.6 L544.5 892.0 L541.7 894.4 L539.0 896.8 L536.2 899.2 L533.4 901.6 L530.7 904.0 L527.9 906.4 L525.1 908.8 L522.4 911.1 L519.6 913.5 L516.8 915.9 L514.1 918.2 L511.3 920.5 L508.6 922.9 L505.8 925.2 L503.0 927.5 L500.3 929.8 L497.5 932.1 L494.7 934.4 L492.0 936.7 L489.2 939.0 L486.4 941.3 L483.7 943.6 L480.9 945.8 L478.1 948.1 L475.4 950.4 L472.6 952.6 L469.9 954.8 L467.1 957.1 L464.3 959.3 L461.6 961.5 L458.8 963.7 L456.0 966.0 L453.3 968.2 L450.5 970.3 L447.7 972.5 L445.0 974.7 L442.2 976.9 L439.4 979.1 L436.7 981.2 L433.9 983.4 L431.2 985.5 L428.4 987.7 L425.6 989.8 L422.9 991.9 L420.1 994.1 L417.3 996.2 L414.6 998.3 L411.8 1000.4 L409.0 1002.5 L406.3 1004.6 L403.5 1006.7 L400.7 1008.8 L398.0 1010.8 L395.2 1012.9 L392.4 1015.0 L389.7 1017.0 L386.9 1019.1 L384.2 1021.1 L381.4 1023.1 L378.6 1025.2 L375.9 1027.2 L373.1 1029.2 L370.3 1031.2 L367.6 1033.2 L364.8 1035.3 L362.0 1037.2 L359.3 1039.2 L356.5 1041.2 L353.7 1043.2 L351.0 1045.2 L348.2 1047.1 L345.5 1049.1 L342.7 1051.1 L339.9 1053.0 L337.2 1055.0 L334.4 1056.9 L331.6 1058.8 L328.9 1060.8 L326.1 1062.7 L323.3 1064.6 L320.6 1066.5 L317.8 1068.4 L315.0 1070.3 L312.3 1072.2 L309.5 1074.1 L306.7 1076.0 L304.0 1077.9 L301.2 1079.7 L298.5 1081.6 L295.7 1083.5 L292.9 1085.3 L290.2 1087.2 L287.4 1089.0 L284.6 1090.9 L281.9 1092.7 L279.1 1094.5 L276.3 1096.3 L273.6 1098.2 L270.8 1100.0 L268.0 1101.8 L265.3 1103.6 L262.5 1105.4 L259.8 1107.2 L257.0 1109.0 L254.2 1110.7 L251.5 1112.5 L248.7 1114.3 L245.9 1116.1 L243.2 1117.8 L240.4 1119.6 L237.6 1121.3 L234.9 1123.1 L232.1 1124.8 L229.3 1126.5 L226.6 1128.3 L223.8 1130.0 L221.1 1131.7 L218.3 1133.4 L215.5 1135.1 L212.8 1136.9 L210.0 1138.6 L207.2 1140.3 L204.5 1141.9 L201.7 1143.6 L198.9 1145.3 L196.2 1147.0 L193.4 1148.7 L190.6 1150.3 L187.9 1152.0 L185.1 1153.6 L182.3 1155.3 L179.6 1156.9 L176.8 1158.6 L174.1 1160.2 L171.3 1161.9 L168.5 1163.5 L165.8 1165.1 L163.0 1166.7 L160.2 1168.3 L157.5 1170.0 L154.7 1171.6 L151.9 1173.2 L149.2 1174.8 L146.4 1176.4 L143.6 1177.9 L140.9 1179.5 L138.1 1181.1 L135.4 1182.7 L132.6 1184.2 L129.8 1185.8 L127.1 1187.4 L124.3 1188.9 L121.5 1190.5 L118.8 1192.0 L116.0 1193.6 Z" fill="#bfbffc" stroke="none"/>
<path d="M116.0 1195.8 L118.8 1193.8 L121.5 1191.9 L124.3 1189.9 L127.1 1187.9 L129.8 1185.8 L132.6 1183.8 L135.4 1181.8 L138.1 1179.8 L140.9 1177.7 L143.6 1175.7 L146.4 1173.6 L149.2 1171.6 L151.9 1169.5 L154.7 1167.4 L157.5 1165.3 L160.2 1163.2 L163.0 1161.1 L165.8 1159.0 L168.5 1156.9 L171.3 1154.8 L174.1 1152.7 L176.8 1150.5 L179.6 1148.4 L182.3 1146.2 L185.1 1144.1 L187.9 1141.9 L190.6 1139.7 L193.4 1137.5 L196.2 1135.4 L198.9 1133.2 L201.7 1131.0 L204.5 1128.7 L207.2 1126.5 L210.0 1124.3 L212.8 1122.0 L215.5 1119.8 L218.3 1117.5 L221.1 1115.3 L223.8 1113.0 L226.6 1110.7 L229.3 1108.4 L232.1 1106.1 L234.9 1103.8 L237.6 1101.5 L240.4 1099.2 L243.2 1096.9 L245.9 1094.5 L248.7 1092.2 L251.5 1089.8 L254.2 1087.5 L257.0 1085.1 L259.8 1082.7 L262.5 1080.3 L265.3 1077.9 L268.0 1075.5 L270.8 1073.1 L273.6 1070.7 L276.3 1068.3 L279.1 1065.8 L281.9 1063.4 L284.6 1060.9 L287.4 1058.4 L290.2 1056.0 L292.9 1053.5 L295.7 1051.0 L298.5 1048.5 L301.2 1046.0 L304.0 1043.4 L306.7 1040.9 L309.5 1038.4 L312.3 1035.8 L315.0 1033.3 L317.8 1030.7 L320.6 1028.1 L323.3 1025.5 L326.1 1022.9 L328.9 1020.3 L331.6 1017.7 L334.4 1015.1 L337.2 1012.5 L339.9 1009.8 L342.7 1007.2 L345.5 1004.5 L348.2 1001.8 L351.0 999.1 L353.7 996.5 L356.5 993.8 L359.3 991.0 L362.0 988.3 L364.8 985.6 L367.6 982.9 L370.3 980.1 L373.1 977.3 L375.9 974.6 L378.6 971.8 L381.4 969.0 L384.2 966.2 L386.9 963.4 L389.7 960.6 L392.4 957.7 L395.2 954.9 L398.0 952.0 L400.7 949.2 L403.5 946.3 L406.3 943.4 L409.0 940.5 L411.8 937.6 L414.6 934.7 L417.3 931.8 L420.1 928.9 L422.9 925.9 L425.6 923.0 L428.4 920.0 L431.2 917.0 L433.9 914.0 L436.7 911.0 L439.4 908.0 L442.2 905.0 L445.0 902.0 L447.7 898.9 L450.5 895.9 L453.3 892.8 L456.0 889.7 L458.8 886.6 L461.6 883.5 L464.3 880.4 L467.1 877.3 L469.9 874.2 L472.6 871.0 L475.4 867.9 L478.1 864.7 L480.9 861.5 L483.7 858.3 L486.4 855.1 L489.2 851.9 L492.0 848.7 L494.7 845.4 L497.5 842.2 L500.3 838.9 L503.0 835.6 L505.8 832.4 L508.6 829.1 L511.3 825.8 L514.1 822.4 L516.8 819.1 L519.6 815.8 L522.4 812.4 L525.1 809.0 L527.9 805.6 L530.7 802.2 L533.4 798.8 L536.2 795.4 L539.0 792.0 L541.7 788.5 L544.5 785.1 L547.3 781.6 L550.0 778.1 L552.8 774.6 L555.6 771.1 L558.3 767.6 L561.1 764.1 L563.8 760.5 L566.6 757.0 L569.4 753.4 L572.1 749.8 L574.9 746.2 L577.7 742.6 L580.4 739.0 L583.2 735.3 L586.0 731.7 L588.7 728.0 L591.5 724.3 L594.3 720.7 L597.0 717.0 L599.8 713.2 L602.5 709.5 L605.3 705.8 L608.1 702.0 L610.8 698.2 L613.6 694.4 L616.4 690.6 L619.1 686.8 L621.9 683.0 L624.7 679.1 L627.4 675.3 L630.2 671.4 L633.0 667.5 L635.7 663.6 L638.5 659.7 L641.3 655.8 L644.0 651.9 L646.8 647.9 L649.5 643.9 L652.3 639.9" fill="none" stroke="#000" stroke-opacity="0.27" stroke-width="1.4"/>
<path d="M116.0 1193.6 L118.8 1192.0 L121.5 1190.5 L124.3 1188.9 L127.1 1187.4 L129.8 1185.8 L132.6 1184.2 L135.4 1182.7 L138.1 1181.1 L140.9 1179.5 L143.6 1177.9 L146.4 1176.4 L149.2 1174.8 L151.9 1173.2 L154.7 1171.6 L157.5 1170.0 L160.2 1168.3 L163.0 1166.7 L165.8 1165.1 L168.5 1163.5 L171.3 1161.9 L174.1 1160.2 L176.8 1158.6 L179.6 1156.9 L182.3 1155.3 L185.1 1153.6 L187.9 1152.0 L190.6 1150.3 L193.4 1148.7 L196.2 1147.0 L198.9 1145.3 L201.7 1143.6 L204.5 1141.9 L207.2 1140.3 L210.0 1138.6 L212.8 1136.9 L215.5 1135.1 L218.3 1133.4 L221.1 1131.7 L223.8 1130.0 L226.6 1128.3 L229.3 1126.5 L232.1 1124.8 L234.9 1123.1 L237.6 1121.3 L240.4 1119.6 L243.2 1117.8 L245.9 1116.1 L248.7 1114.3 L251.5 1112.5 L254.2 1110.7 L257.0 1109.0 L259.8 1107.2 L262.5 1105.4 L265.3 1103.6 L268.0 1101.8 L270.8 1100.0 L273.6 1098.2 L276.3 1096.3 L279.1 1094.5 L281.9 1092.7 L284.6 1090.9 L287.4 1089.0 L290.2 1087.2 L292.9 1085.3 L295.7 1083.5 L298.5 1081.6 L301.2 1079.7 L304.0 1077.9 L306.7 1076.0 L309.5 1074.1 L312.3 1072.2 L315.0 1070.3 L317.8 1068.4 L320.6 1066.5 L323.3 1064.6 L326.1 1062.7 L328.9 1060.8 L331.6 1058.8 L334.4 1056.9 L337.2 1055.0 L339.9 1053.0 L342.7 1051.1 L345.5 1049.1 L348.2 1047.1 L351.0 1045.2 L353.7 1043.2 L356.5 1041.2 L359.3 1039.2 L362.0 1037.2 L364.8 1035.3 L367.6 1033.2 L370.3 1031.2 L373.1 1029.2 L375.9 1027.2 L378.6 1025.2 L381.4 1023.1 L384.2 1021.1 L386.9 1019.1 L389.7 1017.0 L392.4 1015.0 L395.2 1012.9 L398.0 1010.8 L400.7 1008.8 L403.5 1006.7 L406.3 1004.6 L409.0 1002.5 L411.8 1000.4 L414.6 998.3 L417.3 996.2 L420.1 994.1 L422.9 991.9 L425.6 989.8 L428.4 987.7 L431.2 985.5 L433.9 983.4 L436.7 981.2 L439.4 979.1 L442.2 976.9 L445.0 974.7 L447.7 972.5 L450.5 970.3 L453.3 968.2 L456.0 966.0 L458.8 963.7 L461.6 961.5 L464.3 959.3 L467.1 957.1 L469.9 954.8 L472.6 952.6 L475.4 950.4 L478.1 948.1 L480.9 945.8 L483.7 943.6 L486.4 941.3 L489.2 939.0 L492.0 936.7 L494.7 934.4 L497.5 932.1 L500.3 929.8 L503.0 927.5 L505.8 925.2 L508.6 922.9 L511.3 920.5 L514.1 918.2 L516.8 915.9 L519.6 913.5 L522.4 911.1 L525.1 908.8 L527.9 906.4 L530.7 904.0 L533.4 901.6 L536.2 899.2 L539.0 896.8 L541.7 894.4 L544.5 892.0 L547.3 889.6 L550.0 887.1 L552.8 884.7 L555.6 882.2 L558.3 879.8 L561.1 877.3 L563.8 874.8 L566.6 872.4 L569.4 869.9 L572.1 867.4 L574.9 864.9 L577.7 862.4 L580.4 859.9 L583.2 857.3 L586.0 854.8 L588.7 852.3 L591.5 849.7 L594.3 847.2 L597.0 844.6 L599.8 842.0 L602.5 839.5 L605.3 836.9 L608.1 834.3 L610.8 831.7 L613.6 829.1 L616.4 826.5 L619.1 823.9 L621.9 821.2 L624.7 818.6 L627.4 815.9 L630.2 813.3 L633.0 810.6 L635.7 808.0 L638.5 805.3 L641.3 802.6 L644.0 799.9 L646.8 797.2 L649.5 794.5 L652.3 791.8 L655.1 789.1 L657.8 786.3 L660.6 783.6 L663.4 780.8 L666.1 778.1 L668.9 775.3 L671.7 772.5 L674.4 769.8 L677.2 767.0 L680.0 764.2 L682.7 761.4 L685.5 758.5 L688.2 755.7 L691.0 752.9 L693.8 750.0 L696.5 747.2 L699.3 744.3 L702.1 741.5 L704.8 738.6 L707.6 735.7 L710.4 732.8 L713.1 729.9 L715.9 727.0 L718.7 724.1 L721.4 721.1 L724.2 718.2 L726.9 715.3 L729.7 712.3 L732.5 709.3 L735.2 706.4 L738.0 703.4 L740.8 700.4 L743.5 697.4 L746.3 694.4 L749.1 691.4 L751.8 688.4 L754.6 685.3 L757.4 682.3 L760.1 679.2 L762.9 676.2 L765.7 673.1 L768.4 670.0 L771.2 666.9 L773.9 663.8 L776.7 660.7 L779.5 657.6 L782.2 654.5 L785.0 651.3 L787.8 648.2 L790.5 645.0 L793.3 641.9" fill="none" stroke="#000" stroke-opacity="0.27" stroke-width="1.4"/>
<path d="M116.0 1196.2 L118.7 1194.2 L121.4 1192.2 L124.1 1190.1 L126.9 1188.1 L129.6 1186.0 L132.3 1184.0 L135.0 1181.9 L137.7 1179.8 L140.4 1177.8 L143.2 1175.7 L145.9 1173.6 L148.6 1171.5 L151.3 1169.4 L154.0 1167.2 L156.7 1165.1 L159.5 1163.0 L162.2 1160.8 L164.9 1158.7 L167.6 1156.5 L170.3 1154.3 L173.0 1152.2 L175.8 1150.0 L178.5 1147.8 L181.2 1145.6 L183.9 1143.4 L186.6 1141.2 L189.3 1138.9 L192.1 1136.7 L194.8 1134.4 L197.5 1132.2 L200.2 1129.9 L202.9 1127.6 L205.6 1125.4 L208.3 1123.1 L211.1 1120.8 L213.8 1118.5 L216.5 1116.1 L219.2 1113.8 L221.9 1111.5 L224.6 1109.1 L227.4 1106.8 L230.1 1104.4 L232.8 1102.0 L235.5 1099.7 L238.2 1097.3 L240.9 1094.9 L243.7 1092.5 L246.4 1090.0 L249.1 1087.6 L251.8 1085.2 L254.5 1082.7 L257.2 1080.3 L260.0 1077.8 L262.7 1075.3 L265.4 1072.9 L268.1 1070.4 L270.8 1067.9 L273.5 1065.3 L276.3 1062.8 L279.0 1060.3 L281.7 1057.7 L284.4 1055.2 L287.1 1052.6 L289.8 1050.1 L292.5 1047.5 L295.3 1044.9 L298.0 1042.3 L300.7 1039.7 L303.4 1037.0 L306.1 1034.4 L308.8 1031.8 L311.6 1029.1 L314.3 1026.4 L317.0 1023.8 L319.7 1021.1 L322.4 1018.4 L325.1 1015.7 L327.9 1013.0 L330.6 1010.2 L333.3 1007.5 L336.0 1004.8 L338.7 1002.0 L341.4 999.2 L344.2 996.4 L346.9 993.7 L349.6 990.9 L352.3 988.0 L355.0 985.2 L357.7 982.4 L360.5 979.5 L363.2 976.7 L365.9 973.8 L368.6 970.9 L371.3 968.1 L374.0 965.1 L376.7 962.2 L379.5 959.3 L382.2 956.4 L384.9 953.4 L387.6 950.5 L390.3 947.5 L393.0 944.5 L395.8 941.5 L398.5 938.5 L401.2 935.5 L403.9 932.5 L406.6 929.5 L409.3 926.4 L412.1 923.3 L414.8 920.3 L417.5 917.2 L420.2 914.1 L422.9 911.0 L425.6 907.8 L428.4 904.7 L431.1 901.6 L433.8 898.4 L436.5 895.2 L439.2 892.1 L441.9 888.9 L444.7 885.7 L447.4 882.4 L450.1 879.2 L452.8 876.0 L455.5 872.7 L458.2 869.4 L460.9 866.1 L463.7 862.8 L466.4 859.5 L469.1 856.2 L471.8 852.9 L474.5 849.5 L477.2 846.2 L480.0 842.8 L482.7 839.4 L485.4 836.0 L488.1 832.6 L490.8 829.2 L493.5 825.7 L496.3 822.3 L499.0 818.8 L501.7 815.3 L504.4 811.8 L507.1 808.3 L509.8 804.8 L512.6 801.3 L515.3 797.7 L518.0 794.2 L520.7 790.6 L523.4 787.0 L526.1 783.4 L528.9 779.8 L531.6 776.2 L534.3 772.5 L537.0 768.9 L539.7 765.2 L542.4 761.5 L545.1 757.8 L547.9 754.1 L550.6 750.4 L553.3 746.6 L556.0 742.9 L558.7 739.1 L561.4 735.3 L564.2 731.5 L566.9 727.7 L569.6 723.8 L572.3 720.0 L575.0 716.1 L577.7 712.2 L580.5 708.4 L583.2 704.4 L585.9 700.5 L588.6 696.6 L591.3 692.6 L594.0 688.7 L596.8 684.7 L599.5 680.7 L602.2 676.7 L604.9 672.6 L607.6 668.6 L610.3 664.5 L613.1 660.5 L615.8 656.4 L618.5 652.3 L621.2 648.1 L623.9 644.0 L626.6 639.8 L629.3 635.7 L632.1 631.5 L634.8 627.3 L637.5 623.0 L640.2 618.8 L642.9 614.5 L645.6 610.3 L648.4 606.0 L651.1 601.7 L653.8 597.4 L656.5 593.0" fill="none" stroke="#000" stroke-width="4.7" stroke-dasharray="9.1 8.8"/>
<path d="M136.8 1181.2 L137.8 1180.5 L138.8 1179.8 L139.8 1179.1 L140.8 1178.4 L141.8 1177.7 L142.8 1177.0 L143.8 1176.3 L144.9 1175.6 L145.9 1175.0 L146.9 1174.3 L148.0 1173.6 L149.0 1172.9 L150.0 1172.3 L151.1 1171.6 L152.1 1171.0 L153.1 1170.3 L154.2 1169.7 L155.2 1169.1 L156.3 1168.4 L157.3 1167.8 L158.4 1167.2 L159.4 1166.5 L160.5 1165.9 L161.5 1165.3 L162.6 1164.7 L163.7 1164.1 L164.7 1163.5 L165.8 1162.9 L166.9 1162.3 L167.9 1161.7 L169.0 1161.1 L170.1 1160.6 L171.1 1160.0 L172.2 1159.4 L173.3 1158.9 L174.4 1158.3 L175.5 1157.7 L176.5 1157.2 L177.6 1156.6 L178.7 1156.1 L179.8 1155.5 L180.9 1155.0 L182.0 1154.4 L183.1 1153.9 L184.2 1153.4 L185.3 1152.8 L186.4 1152.3 L187.5 1151.8 L188.6 1151.3 L189.7 1150.7 L190.8 1150.2 L191.9 1149.7 L193.0 1149.2 L194.1 1148.7 L195.2 1148.2 L196.3 1147.7 L197.4 1147.2 L198.5 1146.7 L199.6 1146.2 L200.8 1145.7 L201.9 1145.2 L203.0 1144.7 L204.1 1144.3 L205.2 1143.8 L206.3 1143.3 L207.5 1142.8 L208.6 1142.3 L209.7 1141.9 L210.8 1141.4 L212.0 1140.9 L213.1 1140.5 L214.2 1140.0 L215.3 1139.6 L216.5 1139.1 L217.6 1138.6 L218.7 1138.2 L219.9 1137.7 L221.0 1137.3 L222.1 1136.8 L223.3 1136.4 L224.4 1135.9 L225.6 1135.5 L226.7 1135.1 L227.8 1134.6 L229.0 1134.2 L230.1 1133.7 L231.2 1133.3 L232.4 1132.9 L233.5 1132.4 L234.7 1132.0 L235.8 1131.6 L237.0 1131.1 L238.1 1130.7 L239.2 1130.3 L240.4 1129.9 L241.5 1129.4 L242.7 1129.0 L243.8 1128.6 L245.0 1128.2 L246.1 1127.7 L247.3 1127.3 L248.4 1126.9 L249.6 1126.5 L250.7 1126.1 L251.9 1125.6 L253.0 1125.2 L254.2 1124.8 L255.3 1124.4 L256.5 1124.0 L257.6 1123.6 L258.8 1123.2 L259.9 1122.7 L261.1 1122.3 L262.2 1121.9 L263.4 1121.5 L264.5 1121.1 L265.7 1120.7 L266.8 1120.3 L268.0 1119.9 L269.1 1119.5 L270.3 1119.0 L271.4 1118.6 L272.6 1118.2 L273.7 1117.8 L274.9 1117.4 L276.1 1117.0 L277.2 1116.6 L278.4 1116.2 L279.5 1115.8 L280.7 1115.4 L281.8 1115.0 L283.0 1114.6 L284.1 1114.2 L285.3 1113.7 L286.4 1113.3 L287.6 1112.9 L288.7 1112.5 L289.9 1112.1 L291.0 1111.7 L292.2 1111.3 L293.4 1110.9 L294.5 1110.5 L295.7 1110.1 L296.8 1109.7 L298.0 1109.3 L299.1 1108.8 L300.3 1108.4 L301.4 1108.0 L302.6 1107.6 L303.7 1107.2 L304.9 1106.8 L306.0 1106.4 L307.2 1106.0 L308.3 1105.6 L309.5 1105.1 L310.6 1104.7 L311.8 1104.3 L312.9 1103.9 L314.1 1103.5 L315.2 1103.1 L316.4 1102.7 L317.5 1102.2 L318.7 1101.8 L319.8 1101.4 L321.0 1101.0 L322.1 1100.6 L323.3 1100.1 L324.4 1099.7 L325.6 1099.3 L326.7 1098.9 L327.9 1098.4 L329.0 1098.0 L330.2 1097.6 L331.3 1097.2 L332.4 1096.7 L333.6 1096.3 L334.7 1095.9 L335.9 1095.5 L337.0 1095.0 L338.2 1094.6 L339.3 1094.2 L340.4 1093.7 L341.6 1093.3 L342.7 1092.8 L343.9 1092.4 L345.0 1092.0 L346.1 1091.5 L347.3 1091.1 L348.4 1090.6 L349.5 1090.2 L350.7 1089.7 L351.8 1089.3 L353.0 1088.8 L354.1 1088.4 L355.2 1087.9 L356.4 1087.5 L357.5 1087.0 L358.6 1086.6 L359.7 1086.1 L360.9 1085.7 L362.0 1085.2 L363.1 1084.7 L364.3 1084.3 L365.4 1083.8 L366.5 1083.3 L367.6 1082.9 L368.8 1082.4 L369.9 1081.9 L371.0 1081.5 L372.1 1081.0 L373.3 1080.5 L374.4 1080.0 L375.5 1079.6 L376.6 1079.1 L377.8 1078.6 L378.9 1078.1 L380.0 1077.6 L381.1 1077.2 L382.2 1076.7 L383.4 1076.2 L384.5 1075.7 L385.6 1075.2 L386.7 1074.7 L387.8 1074.2 L388.9 1073.7 L390.1 1073.2 L391.2 1072.7 L392.3 1072.2 L393.4 1071.7 L394.5 1071.2 L395.6 1070.7 L396.7 1070.2 L397.8 1069.7 L399.0 1069.2 L400.1 1068.7 L401.2 1068.2 L402.3 1067.7 L403.4 1067.2 L404.5 1066.7 L405.6 1066.2 L406.7 1065.6 L407.8 1065.1 L408.9 1064.6 L410.0 1064.1 L411.1 1063.6 L412.2 1063.1 L413.3 1062.5 L414.4 1062.0 L415.5 1061.5 L416.6 1060.9 L417.7 1060.4 L418.8 1059.9 L419.9 1059.4 L421.0 1058.8 L422.1 1058.3 L423.2 1057.8 L424.3 1057.2 L425.4 1056.7 L426.5 1056.1 L427.6 1055.6 L428.7 1055.1 L429.8 1054.5 L430.9 1054.0 L432.0 1053.4 L433.1 1052.9 L434.2 1052.3 L435.2 1051.8 L436.3 1051.2 L437.4 1050.7 L438.5 1050.1 L439.6 1049.6 L440.7 1049.0 L441.8 1048.4 L442.9 1047.9 L444.0 1047.3 L445.0 1046.8 L446.1 1046.2 L447.2 1045.6 L448.3 1045.1 L449.4 1044.5 L450.5 1043.9 L451.5 1043.4 L452.6 1042.8 L453.7 1042.2 L454.8 1041.6 L455.9 1041.1 L456.9 1040.5 L458.0 1039.9 L459.1 1039.3 L460.2 1038.7 L461.2 1038.2 L462.3 1037.6 L463.4 1037.0 L464.5 1036.4 L465.5 1035.8 L466.6 1035.2 L467.7 1034.6 L468.8 1034.0 L469.8 1033.4 L470.9 1032.8 L472.0 1032.3 L473.0 1031.7 L474.1 1031.1 L475.2 1030.4 L476.2 1029.8 L477.3 1029.2 L478.4 1028.6 L479.4 1028.0 L480.5 1027.4 L481.6 1026.8 L482.6 1026.2 L483.7 1025.6 L484.7 1025.0 L485.8 1024.3 L486.8 1023.7 L487.9 1023.1 L489.0 1022.5 L490.0 1021.8 L491.1 1021.2 L492.1 1020.6 L493.2 1019.9 L494.2 1019.3 L495.2 1018.7 L496.3 1018.0 L497.3 1017.4 L498.4 1016.8 L499.4 1016.1 L500.5 1015.5 L501.5 1014.8 L502.5 1014.2 L503.6 1013.5 L504.6 1012.9 L505.6 1012.2 L506.7 1011.6 L507.7 1010.9 L508.7 1010.2 L509.8 1009.6 L510.8 1008.9 L511.8 1008.2 L512.8 1007.6 L513.9 1006.9 L514.9 1006.2 L515.9 1005.6 L516.9 1004.9 L517.9 1004.2 L518.9 1003.5 L519.9 1002.8 L521.0 1002.1 L522.0 1001.4 L523.0 1000.8 L524.0 1000.1 L525.0 999.4 L526.0 998.7 L527.0 998.0 L528.0 997.3 L529.0 996.6 L530.0 995.8 L531.0 995.1 L531.9 994.4 L532.9 993.7 L533.9 993.0 L534.9 992.3 L535.9 991.5 L536.9 990.8 L537.8 990.1 L538.8 989.4 L539.8 988.6 L540.8 987.9 L541.7 987.2 L542.7 986.4 L543.7 985.7 L544.6 984.9 L545.6 984.2 L546.5 983.4 L547.5 982.7 L548.5 981.9 L549.4 981.1 L550.4 980.4 L551.3 979.6 L552.2 978.9 L553.2 978.1 L554.1 977.3 L555.1 976.5 L556.0 975.8 L556.9 975.0 L557.9 974.2 L558.8 973.4 L559.7 972.6 L560.6 971.8 L561.6 971.0 L562.5 970.2 L563.4 969.4 L564.3 968.6 L565.2 967.8 L566.1 967.0 L567.0 966.2 L567.9 965.4 L568.8 964.6 L569.7 963.7 L570.6 962.9 L571.5 962.1 L572.4 961.3 L573.3 960.4 L574.2 959.6 L575.1 958.8 L576.0 957.9 L576.9 957.1 L577.7 956.2 L578.6 955.4 L579.5 954.5 L580.4 953.7 L581.2 952.8 L582.1 952.0 L583.0 951.1 L583.8 950.3 L584.7 949.4 L585.6 948.5 L586.4 947.7 L587.3 946.8 L588.1 945.9 L589.0 945.1 L589.8 944.2 L590.7 943.3 L591.5 942.4 L592.4 941.6 L593.2 940.7 L594.1 939.8 L594.9 938.9 L595.7 938.0 L596.6 937.1 L597.4 936.2 L598.2 935.3 L599.1 934.4 L599.9 933.5 L600.7 932.6 L601.6 931.7 L602.4 930.8 L603.2 929.9 L604.0 929.0 L604.8 928.1 L605.7 927.2 L606.5 926.3 L607.3 925.4 L608.1 924.4 L608.9 923.5 L609.7 922.6 L610.5 921.7 L611.3 920.8 L612.1 919.8 L612.9 918.9 L613.7 918.0 L614.5 917.0 L615.3 916.1 L616.1 915.2 L616.9 914.2 L617.7 913.3 L618.5 912.4 L619.3 911.4 L620.0 910.5 L620.8 909.5 L621.6 908.6 L622.4 907.6 L623.1 906.7 L623.9 905.7 L624.7 904.8 L625.4 903.8 L626.2 902.9 L627.0 901.9 L627.7 900.9 L628.5 900.0 L629.2 899.0 L630.0 898.0 L630.7 897.1 L631.4 896.1 L632.2 895.1 L632.9 894.1 L633.6 893.1 L634.4 892.2 L635.1 891.2 L635.8 890.2 L636.5 889.2 L637.2 888.2 L638.0 887.2 L638.7 886.2 L639.4 885.2 L640.1 884.2 L640.8 883.2 L641.4 882.2 L642.1 881.2 L642.8 880.2 L643.5 879.2 L644.2 878.2 L644.8 877.1 L645.5 876.1 L646.2 875.1 L646.8 874.1 L647.5 873.0 L648.1 872.0 L648.8 871.0 L649.4 869.9 L650.0 868.9 L650.7 867.9 L651.3 866.8 L651.9 865.8 L652.5 864.7 L653.2 863.7 L653.8 862.6 L654.4 861.5 L655.0 860.5 L655.6 859.4 L656.2 858.4 L656.7 857.3 L657.3 856.2 L657.9 855.2 L658.5 854.1 L659.1 853.0 L659.6 851.9 L660.2 850.9 L660.8 849.8 L661.4 848.7 L661.9 847.6 L662.5 846.5 L663.1 845.5 L663.6 844.4 L664.2 843.3 L664.7 842.2 L665.3 841.1 L665.9 840.1 L666.4 839.0 L667.0 837.9 L667.5 836.8 L668.1 835.7 L668.7 834.6 L669.2 833.6 L669.8 832.5 L670.3 831.4 L670.9 830.3 L671.5 829.2 L672.0 828.2 L672.6 827.1 L673.2 826.0 L673.8 824.9 L674.3 823.8 L674.9 822.8 L675.5 821.7 L676.1 820.6 L676.7 819.6 L677.2 818.5 L677.8 817.4 L678.4 816.4 L679.0 815.3 L679.6 814.2 L680.2 813.2 L680.9 812.1 L681.5 811.1 L682.1 810.0 L682.7 809.0 L683.3 807.9 L683.9 806.9 L684.6 805.8 L685.2 804.8 L685.8 803.7 L686.4 802.7 L687.0 801.6 L687.6 800.6 L688.3 799.5 L688.9 798.5 L689.5 797.4 L690.1 796.4 L690.7 795.3 L691.3 794.3 L691.9 793.2 L692.5 792.2 L693.1 791.1 L693.6 790.0 L694.2 789.0 L694.8 787.9 L695.4 786.8 L695.9 785.8 L696.5 784.7 L697.0 783.6 L697.6 782.5 L698.1 781.5 L698.6 780.4 L699.1 779.3 L699.7 778.2 L700.2 777.1 L700.7 776.0 L701.2 774.9 L701.6 773.8 L702.1 772.7 L702.6 771.6 L703.1 770.4 L703.5 769.3 L704.0 768.2 L704.4 767.1 L704.9 766.0 L705.3 764.8 L705.8 763.7 L706.2 762.6 L706.7 761.4 L707.1 760.3 L707.5 759.2 L708.0 758.0 L708.4 756.9 L708.8 755.8 L709.3 754.6 L709.7 753.5 L710.1 752.3 L710.6 751.2 L711.0 750.1 L711.4 748.9 L711.9 747.8 L712.3 746.6 L712.7 745.5 L713.2 744.4 L713.6 743.2 L714.1 742.1 L714.5 741.0 L715.0 739.8 L715.4 738.7 L715.8 737.6 L716.3 736.4 L716.8 735.3 L717.2 734.2 L717.7 733.0 L718.1 731.9 L718.6 730.8 L719.0 729.6 L719.5 728.5 L719.9 727.4 L720.4 726.2 L720.9 725.1 L721.3 724.0 L721.8 722.8 L722.2 721.7 L722.7 720.6 L723.2 719.4 L723.6 718.3 L724.1 717.2 L724.5 716.0 L725.0 714.9 L725.5 713.8 L725.9 712.6 L726.4 711.5 L726.8 710.4 L727.3 709.2 L727.8 708.1 L728.2 707.0 L728.7 705.8 L729.1 704.7 L729.6 703.6 L730.0 702.4 L730.4 701.3 L730.9 700.1 L731.3 699.0 L731.7 697.8 L732.2 696.7 L732.6 695.6 L733.0 694.4 L733.4 693.3 L733.8 692.1 L734.2 691.0 L734.6 689.8 L735.0 688.7 L735.3 687.5 L735.7 686.3 L736.1 685.2 L736.4 684.0 L736.8 682.9 L737.1 681.7 L737.4 680.5 L737.8 679.4 L738.1 678.2 L738.4 677.0 L738.7 675.8 L738.9 674.6 L739.2 673.5 L739.5 672.3 L739.7 671.1 L739.9 669.9 L740.2 668.7 L740.4 667.5 L740.6 666.3 L740.8 665.1 L740.9 663.9 L741.1 662.7 L741.2 661.5 L741.4 660.3 L741.5 659.1 L741.6 657.8 L741.7 656.6 L741.8 655.4 L741.8 654.2 L741.9 652.9 L741.9 651.7 L741.9 650.4 L741.9 649.2 L741.9 647.9" fill="none" stroke="#008000" stroke-width="4.7" stroke-dasharray="1.6 4.35"/>
<path d="M329.6 1017.5 l6.4 6.4 l-6.4 6.4 l-6.4 -6.4 Z" fill="#f00" stroke="#000" stroke-width="1.0"/>
<path d="M341.6 997.6 l6.4 6.4 l-6.4 6.4 l-6.4 -6.4 Z" fill="#f00" stroke="#000" stroke-width="1.0"/>
<path d="M346.5 995.9 l6.4 6.4 l-6.4 6.4 l-6.4 -6.4 Z" fill="#f00" stroke="#000" stroke-width="1.0"/>
<path d="M358.2 987.6 l6.4 6.4 l-6.4 6.4 l-6.4 -6.4 Z" fill="#f00" stroke="#000" stroke-width="1.0"/>
<path d="M366.1 992.0 l6.4 6.4 l-6.4 6.4 l-6.4 -6.4 Z" fill="#f00" stroke="#000" stroke-width="1.0"/>
<path d="M358.2 1002.0 l6.4 6.4 l-6.4 6.4 l-6.4 -6.4 Z" fill="#f00" stroke="#000" stroke-width="1.0"/>
<path d="M368.8 1021.3 l6.4 6.4 l-6.4 6.4 l-6.4 -6.4 Z" fill="#f00" stroke="#000" stroke-width="1.0"/>
<path d="M379.6 969.9 l6.4 6.4 l-6.4 6.4 l-6.4 -6.4 Z" fill="#f00" stroke="#000" stroke-width="1.0"/>
<path d="M391.9 969.9 l6.4 6.4 l-6.4 6.4 l-6.4 -6.4 Z" fill="#f00" stroke="#000" stroke-width="1.0"/>
<path d="M396.3 957.3 l6.4 6.4 l-6.4 6.4 l-6.4 -6.4 Z" fill="#f00" stroke="#000" stroke-width="1.0"/>
<path d="M402.4 944.5 l6.4 6.4 l-6.4 6.4 l-6.4 -6.4 Z" fill="#f00" stroke="#000" stroke-width="1.0"/>
<path d="M397.7 981.8 l6.4 6.4 l-6.4 6.4 l-6.4 -6.4 Z" fill="#f00" stroke="#000" stroke-width="1.0"/>
<path d="M396.3 991.0 l6.4 6.4 l-6.4 6.4 l-6.4 -6.4 Z" fill="#f00" stroke="#000" stroke-width="1.0"/>
<path d="M391.9 1009.6 l6.4 6.4 l-6.4 6.4 l-6.4 -6.4 Z" fill="#f00" stroke="#000" stroke-width="1.0"/>
<path d="M394.9 1018.2 l6.4 6.4 l-6.4 6.4 l-6.4 -6.4 Z" fill="#f00" stroke="#000" stroke-width="1.0"/>
<path d="M414.7 992.4 l6.4 6.4 l-6.4 6.4 l-6.4 -6.4 Z" fill="#f00" stroke="#000" stroke-width="1.0"/>
<path d="M424.0 986.2 l6.4 6.4 l-6.4 6.4 l-6.4 -6.4 Z" fill="#f00" stroke="#000" stroke-width="1.0"/>
<path d="M408.3 932.1 l6.4 6.4 l-6.4 6.4 l-6.4 -6.4 Z" fill="#f00" stroke="#000" stroke-width="1.0"/>
<path d="M421.5 938.1 l6.4 6.4 l-6.4 6.4 l-6.4 -6.4 Z" fill="#f00" stroke="#000" stroke-width="1.0"/>
<path d="M426.7 938.4 l6.4 6.4 l-6.4 6.4 l-6.4 -6.4 Z" fill="#f00" stroke="#000" stroke-width="1.0"/>
<path d="M436.2 930.1 l6.4 6.4 l-6.4 6.4 l-6.4 -6.4 Z" fill="#f00" stroke="#000" stroke-width="1.0"/>
<path d="M431.5 954.6 l6.4 6.4 l-6.4 6.4 l-6.4 -6.4 Z" fill="#f00" stroke="#000" stroke-width="1.0"/>
<path d="M437.5 950.9 l6.4 6.4 l-6.4 6.4 l-6.4 -6.4 Z" fill="#f00" stroke="#000" stroke-width="1.0"/>
<path d="M437.5 960.4 l6.4 6.4 l-6.4 6.4 l-6.4 -6.4 Z" fill="#f00" stroke="#000" stroke-width="1.0"/>
<path d="M451.4 955.6 l6.4 6.4 l-6.4 6.4 l-6.4 -6.4 Z" fill="#f00" stroke="#000" stroke-width="1.0"/>
<path d="M455.7 944.6 l6.4 6.4 l-6.4 6.4 l-6.4 -6.4 Z" fill="#f00" stroke="#000" stroke-width="1.0"/>
<path d="M423.7 920.4 l6.4 6.4 l-6.4 6.4 l-6.4 -6.4 Z" fill="#f00" stroke="#000" stroke-width="1.0"/>
<path d="M440.9 896.2 l6.4 6.4 l-6.4 6.4 l-6.4 -6.4 Z" fill="#f00" stroke="#000" stroke-width="1.0"/>
<path d="M458.9 894.0 l6.4 6.4 l-6.4 6.4 l-6.4 -6.4 Z" fill="#f00" stroke="#000" stroke-width="1.0"/>
<path d="M458.9 904.1 l6.4 6.4 l-6.4 6.4 l-6.4 -6.4 Z" fill="#f00" stroke="#000" stroke-width="1.0"/>
<path d="M477.2 896.8 l6.4 6.4 l-6.4 6.4 l-6.4 -6.4 Z" fill="#f00" stroke="#000" stroke-width="1.0"/>
<path d="M464.6 920.8 l6.4 6.4 l-6.4 6.4 l-6.4 -6.4 Z" fill="#f00" stroke="#000" stroke-width="1.0"/>
<path d="M472.5 920.8 l6.4 6.4 l-6.4 6.4 l-6.4 -6.4 Z" fill="#f00" stroke="#000" stroke-width="1.0"/>
<path d="M477.2 932.7 l6.4 6.4 l-6.4 6.4 l-6.4 -6.4 Z" fill="#f00" stroke="#000" stroke-width="1.0"/>
<path d="M489.5 916.9 l6.4 6.4 l-6.4 6.4 l-6.4 -6.4 Z" fill="#f00" stroke="#000" stroke-width="1.0"/>
<path d="M495.3 908.0 l6.4 6.4 l-6.4 6.4 l-6.4 -6.4 Z" fill="#f00" stroke="#000" stroke-width="1.0"/>
<path d="M503.2 921.7 l6.4 6.4 l-6.4 6.4 l-6.4 -6.4 Z" fill="#f00" stroke="#000" stroke-width="1.0"/>
<path d="M490.4 890.1 l6.4 6.4 l-6.4 6.4 l-6.4 -6.4 Z" fill="#f00" stroke="#000" stroke-width="1.0"/>
<path d="M498.2 890.4 l6.4 6.4 l-6.4 6.4 l-6.4 -6.4 Z" fill="#f00" stroke="#000" stroke-width="1.0"/>
<path d="M502.3 882.5 l6.4 6.4 l-6.4 6.4 l-6.4 -6.4 Z" fill="#f00" stroke="#000" stroke-width="1.0"/>
<path d="M500.2 869.0 l6.4 6.4 l-6.4 6.4 l-6.4 -6.4 Z" fill="#f00" stroke="#000" stroke-width="1.0"/>
<path d="M513.7 882.6 l6.4 6.4 l-6.4 6.4 l-6.4 -6.4 Z" fill="#f00" stroke="#000" stroke-width="1.0"/>
<path d="M519.7 890.4 l6.4 6.4 l-6.4 6.4 l-6.4 -6.4 Z" fill="#f00" stroke="#000" stroke-width="1.0"/>
<path d="M520.9 885.7 l6.4 6.4 l-6.4 6.4 l-6.4 -6.4 Z" fill="#f00" stroke="#000" stroke-width="1.0"/>
<path d="M528.4 883.8 l6.4 6.4 l-6.4 6.4 l-6.4 -6.4 Z" fill="#f00" stroke="#000" stroke-width="1.0"/>
<path d="M533.6 881.0 l6.4 6.4 l-6.4 6.4 l-6.4 -6.4 Z" fill="#f00" stroke="#000" stroke-width="1.0"/>
<path d="M521.5 864.5 l6.4 6.4 l-6.4 6.4 l-6.4 -6.4 Z" fill="#f00" stroke="#000" stroke-width="1.0"/>
<path d="M539.5 871.8 l6.4 6.4 l-6.4 6.4 l-6.4 -6.4 Z" fill="#f00" stroke="#000" stroke-width="1.0"/>
<path d="M548.2 848.0 l6.4 6.4 l-6.4 6.4 l-6.4 -6.4 Z" fill="#f00" stroke="#000" stroke-width="1.0"/>
<path d="M552.1 848.3 l6.4 6.4 l-6.4 6.4 l-6.4 -6.4 Z" fill="#f00" stroke="#000" stroke-width="1.0"/>
<path d="M564.0 821.3 l6.4 6.4 l-6.4 6.4 l-6.4 -6.4 Z" fill="#f00" stroke="#000" stroke-width="1.0"/>
<path d="M579.5 826.4 l6.4 6.4 l-6.4 6.4 l-6.4 -6.4 Z" fill="#f00" stroke="#000" stroke-width="1.0"/>
</g>
<path d="M130.04 1196.30 v-5.90 M130.04 655.10 v5.90 M270.43 1196.30 v-5.90 M270.43 655.10 v5.90 M410.82 1196.30 v-5.90 M410.82 655.10 v5.90 M551.22 1196.30 v-5.90 M551.22 655.10 v5.90 M691.61 1196.30 v-5.90 M691.61 655.10 v5.90 M116.00 1185.69 h5.90 M832.00 1185.69 h-5.90 M116.00 1079.57 h5.90 M832.00 1079.57 h-5.90 M116.00 973.45 h5.90 M832.00 973.45 h-5.90 M116.00 867.34 h5.90 M832.00 867.34 h-5.90 M116.00 761.22 h5.90 M832.00 761.22 h-5.90" stroke="#000" stroke-width="0.95" fill="none"/>
<rect x="116.00" y="655.10" width="716.00" height="541.20" fill="none" stroke="#000" stroke-width="1.65"/>
<text stroke="#000" stroke-width="0.40" transform="translate(0 1195.79) scale(0.9640 1.000)" x="74.56" y="0" font-size="29.20">0</text><text stroke="#000" stroke-width="0.40" transform="translate(0 1195.79) scale(0.9660 1.000)" x="91.63" y="0" font-size="29.20">.</text><text stroke="#000" stroke-width="0.40" transform="translate(0 1195.79) scale(0.9640 1.000)" x="100.98" y="0" font-size="29.20">0</text>
<text stroke="#000" stroke-width="0.40" transform="translate(0 1222.20) scale(0.9640 1.000)" x="115.69" y="0" font-size="29.20">0</text><text stroke="#000" stroke-width="0.40" transform="translate(0 1222.20) scale(0.9660 1.000)" x="132.67" y="0" font-size="29.20">.</text><text stroke="#000" stroke-width="0.40" transform="translate(0 1222.20) scale(0.9640 1.000)" x="142.12" y="0" font-size="29.20">0</text>
<text stroke="#000" stroke-width="0.40" transform="translate(0 1089.67) scale(0.9640 1.000)" x="75.49" y="0" font-size="29.20">0</text><text stroke="#000" stroke-width="0.40" transform="translate(0 1089.67) scale(0.9510 1.000)" x="94.08" y="0" font-size="29.20">.</text><text stroke="#000" stroke-width="0.40" transform="translate(0 1089.67) scale(0.9290 1.000)" x="105.68" y="0" font-size="29.20">2</text>
<text stroke="#000" stroke-width="0.40" transform="translate(0 1222.20) scale(0.9640 1.000)" x="261.79" y="0" font-size="29.20">0</text><text stroke="#000" stroke-width="0.40" transform="translate(0 1222.20) scale(0.9510 1.000)" x="282.93" y="0" font-size="29.20">.</text><text stroke="#000" stroke-width="0.40" transform="translate(0 1222.20) scale(0.9290 1.000)" x="299.00" y="0" font-size="29.20">2</text>
<text stroke="#000" stroke-width="0.40" transform="translate(0 983.55) scale(0.9640 1.000)" x="74.27" y="0" font-size="29.20">0</text><text stroke="#000" stroke-width="0.40" transform="translate(0 983.55) scale(0.9660 1.000)" x="91.34" y="0" font-size="29.20">.</text><text stroke="#000" stroke-width="0.40" transform="translate(0 983.55) scale(0.9640 1.000)" x="100.69" y="0" font-size="29.20">4</text>
<text stroke="#000" stroke-width="0.40" transform="translate(0 1222.20) scale(0.9640 1.000)" x="406.82" y="0" font-size="29.20">0</text><text stroke="#000" stroke-width="0.40" transform="translate(0 1222.20) scale(0.9660 1.000)" x="423.20" y="0" font-size="29.20">.</text><text stroke="#000" stroke-width="0.40" transform="translate(0 1222.20) scale(0.9640 1.000)" x="433.24" y="0" font-size="29.20">4</text>
<text stroke="#000" stroke-width="0.40" transform="translate(0 877.44) scale(0.9640 1.000)" x="74.46" y="0" font-size="29.20">0</text><text stroke="#000" stroke-width="0.40" transform="translate(0 877.44) scale(0.9810 1.000)" x="90.07" y="0" font-size="29.20">.</text><text stroke="#000" stroke-width="0.40" transform="translate(0 877.44) scale(0.9980 1.000)" x="97.17" y="0" font-size="29.20">6</text>
<text stroke="#000" stroke-width="0.40" transform="translate(0 1222.20) scale(0.9640 1.000)" x="552.55" y="0" font-size="29.20">0</text><text stroke="#000" stroke-width="0.40" transform="translate(0 1222.20) scale(0.9810 1.000)" x="559.87" y="0" font-size="29.20">.</text><text stroke="#000" stroke-width="0.40" transform="translate(0 1222.20) scale(0.9980 1.000)" x="558.97" y="0" font-size="29.20">6</text>
<text stroke="#000" stroke-width="0.40" transform="translate(0 771.32) scale(0.9640 1.000)" x="74.61" y="0" font-size="29.20">0</text><text stroke="#000" stroke-width="0.40" transform="translate(0 771.32) scale(0.9710 1.000)" x="91.19" y="0" font-size="29.20">.</text><text stroke="#000" stroke-width="0.40" transform="translate(0 771.32) scale(0.9740 1.000)" x="99.91" y="0" font-size="29.20">8</text>
<text stroke="#000" stroke-width="0.40" transform="translate(0 1222.20) scale(0.9640 1.000)" x="698.26" y="0" font-size="29.20">0</text><text stroke="#000" stroke-width="0.40" transform="translate(0 1222.20) scale(0.9710 1.000)" x="710.34" y="0" font-size="29.20">.</text><text stroke="#000" stroke-width="0.40" transform="translate(0 1222.20) scale(0.9740 1.000)" x="717.16" y="0" font-size="29.20">8</text>
<path d="M605.3 1055.3 l6.4 6.4 l-6.4 6.4 l-6.4 -6.4 Z" fill="#f00" stroke="#000" stroke-width="1.0"/>
<path d="M638.5 1055.3 l6.4 6.4 l-6.4 6.4 l-6.4 -6.4 Z" fill="#f00" stroke="#000" stroke-width="1.0"/>
<path d="M605 1096.6 H640.4" stroke="#000" stroke-width="4.7" stroke-dasharray="9.1 8.8" fill="none"/>
<path d="M603.1 1131.45 H640.8" stroke="#00f" stroke-width="4.7" fill="none"/>
<path d="M605.1 1166.4 H637" stroke="#008000" stroke-width="4.7" stroke-dasharray="1.6 4.34" fill="none"/>
<text stroke="#000" stroke-width="0.30" transform="translate(0 1069.30) scale(0.8610 1.000)" x="772.53" y="0" font-size="24.00">E</text><text stroke="#000" stroke-width="0.30" transform="translate(0 1069.30) scale(1.1020 1.000)" x="617.02" y="0" font-size="24.00">x</text><text stroke="#000" stroke-width="0.30" transform="translate(0 1069.30) scale(1.0810 1.000)" x="642.16" y="0" font-size="24.00">p</text><text stroke="#000" stroke-width="0.30" transform="translate(0 1069.30) scale(1.0730 1.000)" x="660.81" y="0" font-size="24.00">e</text><text stroke="#000" stroke-width="0.30" transform="translate(0 1069.30) scale(1.1400 1.000)" x="635.30" y="0" font-size="24.00">r</text><text stroke="#000" stroke-width="0.30" transform="translate(0 1069.30) scale(1.0730 1.000)" x="683.84" y="0" font-size="24.00">i</text><text stroke="#000" stroke-width="0.30" transform="translate(0 1069.30) scale(1.1320 1.000)" x="653.97" y="0" font-size="24.00">m</text><text stroke="#000" stroke-width="0.30" transform="translate(0 1069.30) scale(1.0730 1.000)" x="711.45" y="0" font-size="24.00">e</text><text stroke="#000" stroke-width="0.30" transform="translate(0 1069.30) scale(1.0710 1.000)" x="726.70" y="0" font-size="24.00">n</text><text stroke="#000" stroke-width="0.30" transform="translate(0 1069.30) scale(1.1400 1.000)" x="696.27" y="0" font-size="24.00">t</text><text stroke="#000" stroke-width="0.30" transform="translate(0 1069.30) scale(0.9530 1.000)" x="842.56" y="0" font-size="24.00">s</text>
<text stroke="#000" stroke-width="0.30" transform="translate(0 1103.95) scale(1.0220 1.000)" x="650.52" y="0" font-size="24.00">L</text><text stroke="#000" stroke-width="0.30" transform="translate(0 1103.95) scale(1.0560 1.000)" x="641.69" y="0" font-size="24.00">o</text><text stroke="#000" stroke-width="0.30" transform="translate(0 1103.95) scale(1.0800 1.000)" x="640.91" y="0" font-size="24.00">g</text><text stroke="#000" stroke-width="0.30" transform="translate(0 1103.95) scale(1.0710 1.000)" x="660.24" y="0" font-size="24.00">-</text><text stroke="#000" stroke-width="0.30" transform="translate(0 1103.95) scale(0.9820 1.000)" x="729.24" y="0" font-size="24.00">N</text><text stroke="#000" stroke-width="0.30" transform="translate(0 1103.95) scale(1.0560 1.000)" x="694.88" y="0" font-size="24.00">o</text><text stroke="#000" stroke-width="0.30" transform="translate(0 1103.95) scale(1.1400 1.000)" x="656.92" y="0" font-size="24.00">r</text><text stroke="#000" stroke-width="0.30" transform="translate(0 1103.95) scale(1.1320 1.000)" x="669.51" y="0" font-size="24.00">m</text><text stroke="#000" stroke-width="0.30" transform="translate(0 1103.95) scale(0.9560 1.000)" x="817.18" y="0" font-size="24.00">a</text><text stroke="#000" stroke-width="0.30" transform="translate(0 1103.95) scale(1.0600 1.000)" x="750.81" y="0" font-size="24.00">l</text>
<text stroke="#000" stroke-width="0.30" transform="translate(0 1138.60) scale(1.0220 1.000)" x="650.52" y="0" font-size="24.00">L</text><text stroke="#000" stroke-width="0.30" transform="translate(0 1138.60) scale(1.0560 1.000)" x="641.69" y="0" font-size="24.00">o</text><text stroke="#000" stroke-width="0.30" transform="translate(0 1138.60) scale(1.0800 1.000)" x="640.91" y="0" font-size="24.00">g</text><text stroke="#000" stroke-width="0.30" transform="translate(0 1138.60) scale(1.0710 1.000)" x="660.24" y="0" font-size="24.00">-</text><text stroke="#000" stroke-width="0.30" transform="translate(0 1138.60) scale(0.8790 1.000)" x="814.92" y="0" font-size="24.00">P</text><text stroke="#000" stroke-width="0.30" transform="translate(0 1138.60) scale(1.0560 1.000)" x="690.80" y="0" font-size="24.00">o</text><text stroke="#000" stroke-width="0.30" transform="translate(0 1138.60) scale(1.0150 1.000)" x="733.45" y="0" font-size="24.00">i</text><text stroke="#000" stroke-width="0.30" transform="translate(0 1138.60) scale(0.9530 1.000)" x="788.16 801.19" y="0" font-size="24.00">ss</text><text stroke="#000" stroke-width="0.30" transform="translate(0 1138.60) scale(1.0560 1.000)" x="734.43" y="0" font-size="24.00">o</text><text stroke="#000" stroke-width="0.30" transform="translate(0 1138.60) scale(1.0710 1.000)" x="737.96" y="0" font-size="24.00">n</text>
<text stroke="#000" stroke-width="0.30" transform="translate(0 1173.25) scale(0.9820 1.000)" x="677.10" y="0" font-size="24.00">N</text><text stroke="#000" stroke-width="0.30" transform="translate(0 1173.25) scale(1.0560 1.000)" x="646.39" y="0" font-size="24.00">o</text><text stroke="#000" stroke-width="0.30" transform="translate(0 1173.25) scale(1.1400 1.000)" x="612.00" y="0" font-size="24.00">r</text><text stroke="#000" stroke-width="0.30" transform="translate(0 1173.25) scale(1.1320 1.000)" x="624.28" y="0" font-size="24.00">m</text><text stroke="#000" stroke-width="0.30" transform="translate(0 1173.25) scale(0.9560 1.000)" x="763.62" y="0" font-size="24.00">a</text><text stroke="#000" stroke-width="0.30" transform="translate(0 1173.25) scale(1.0620 1.000)" x="701.18" y="0" font-size="24.00">l</text>
<text class="m" stroke="#000" stroke-width="0.25" transform="translate(0 1261.20) scale(1.0070 1.033)" x="359.22" y="0" font-size="32.60">V</text><text class="m" stroke="#000" stroke-width="0.25" transform="translate(0 1261.20) scale(1.1370 0.930)" x="339.23" y="0" font-size="32.60">a</text><text class="m" stroke="#000" stroke-width="0.25" transform="translate(0 1261.20) scale(1.1010 0.930)" x="365.10" y="0" font-size="32.60">r</text><text class="m" stroke="#000" stroke-width="0.25" transform="translate(0 1261.20) scale(0.9090 1.000)" x="456.40" y="0" font-size="32.60">i</text><text class="m" stroke="#000" stroke-width="0.25" transform="translate(0 1261.20) scale(1.1370 0.930)" x="372.41" y="0" font-size="32.60">a</text><text class="m" stroke="#000" stroke-width="0.25" transform="translate(0 1261.20) scale(1.0880 0.930)" x="404.17" y="0" font-size="32.60">n</text><text class="m" stroke="#000" stroke-width="0.25" transform="translate(0 1261.20) scale(1.0090 0.930)" x="453.26" y="0" font-size="32.60">c</text><text class="m" stroke="#000" stroke-width="0.25" transform="translate(0 1261.20) scale(1.0370 0.930)" x="454.61" y="0" font-size="32.60">e</text>
<text class="m" stroke="#000" stroke-width="0.25" transform="translate(0 1261.20) scale(0.9090 1.000)" x="545.19" y="0" font-size="32.60">i</text><text class="m" stroke="#000" stroke-width="0.25" transform="translate(0 1261.20) scale(1.0880 0.930)" x="463.51" y="0" font-size="32.60">n</text>
<text class="m" stroke="#000" stroke-width="0.25" transform="translate(0 1261.20) scale(0.9420 1.000)" x="564.00" y="0" font-size="32.60">l</text><text class="m" stroke="#000" stroke-width="0.25" transform="translate(0 1261.20) scale(1.0880 0.930)" x="496.32" y="0" font-size="32.60">n</text>
<text class="m i" stroke="#000" stroke-width="0.10" transform="translate(0 1261.20) scale(0.9930 0.935)" x="563.97" y="0" font-size="32.60">ρ</text>
<text class="m i" stroke="#000" stroke-width="0.10" transform="translate(0 1268.80) scale(0.9850 0.935)" x="584.99" y="0" font-size="22.82">p</text>
<g transform="translate(42.7 2000) rotate(-90)">
<text class="m" stroke="#000" stroke-width="0.25" transform="translate(0 0.00) scale(1.0070 1.033)" x="968.35" y="0" font-size="32.60">V</text><text class="m" stroke="#000" stroke-width="0.25" transform="translate(0 0.00) scale(1.1370 0.930)" x="878.72" y="0" font-size="32.60">a</text><text class="m" stroke="#000" stroke-width="0.25" transform="translate(0 0.00) scale(1.1010 0.930)" x="922.23" y="0" font-size="32.60">r</text><text class="m" stroke="#000" stroke-width="0.25" transform="translate(0 0.00) scale(0.9090 1.000)" x="1131.20" y="0" font-size="32.60">i</text><text class="m" stroke="#000" stroke-width="0.25" transform="translate(0 0.00) scale(1.1370 0.930)" x="911.90" y="0" font-size="32.60">a</text><text class="m" stroke="#000" stroke-width="0.25" transform="translate(0 0.00) scale(1.0880 0.930)" x="967.95" y="0" font-size="32.60">n</text><text class="m" stroke="#000" stroke-width="0.25" transform="translate(0 0.00) scale(1.0090 0.930)" x="1061.19" y="0" font-size="32.60">c</text><text class="m" stroke="#000" stroke-width="0.25" transform="translate(0 0.00) scale(1.0370 0.930)" x="1046.13" y="0" font-size="32.60">e</text>
<text class="m" stroke="#000" stroke-width="0.25" transform="translate(0 0.00) scale(0.9090 1.000)" x="1219.56" y="0" font-size="32.60">i</text><text class="m" stroke="#000" stroke-width="0.25" transform="translate(0 0.00) scale(1.0880 0.930)" x="1026.93" y="0" font-size="32.60">n</text>
<text class="m i" stroke="#000" stroke-width="0.10" transform="translate(0 0.00) scale(0.9930 0.935)" x="1154.60" y="0" font-size="32.60">ρ</text>
<text class="m i" stroke="#000" stroke-width="0.10" transform="translate(0 7.60) scale(0.9850 0.935)" x="1179.92" y="0" font-size="22.82">p</text>
</g>
</svg></body></html>
